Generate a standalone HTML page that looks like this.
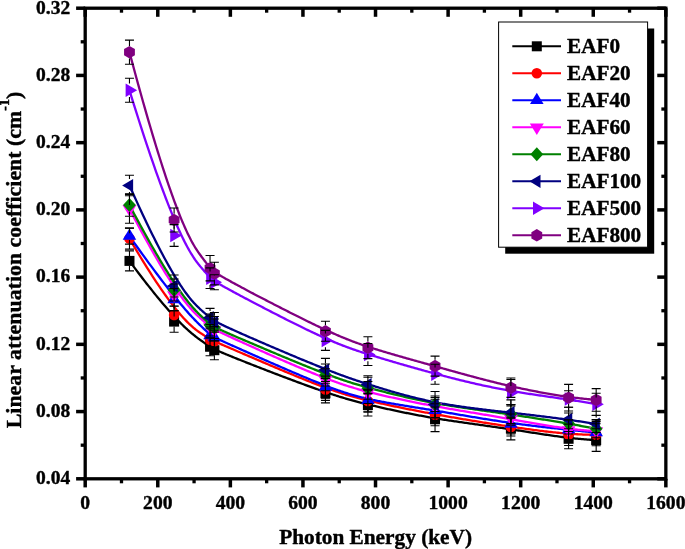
<!DOCTYPE html><html><head><meta charset="utf-8"><style>html,body{margin:0;padding:0;background:#fff;}svg{display:block;will-change:transform;}text{font-family:"Liberation Serif",serif;font-weight:bold;fill:#000;stroke:#000;stroke-width:0.4px;stroke-linejoin:round;}</style></head><body>
<svg width="685" height="549" viewBox="0 0 685 549">
<g fill="none" stroke-width="2.3" stroke-linejoin="round" stroke-linecap="round">
<path d="M129.47,260.90 L131.79,264.04 L134.06,267.10 L136.29,270.07 L138.46,272.95 L140.59,275.76 L142.67,278.48 L144.71,281.12 L146.70,283.68 L148.65,286.16 L150.56,288.57 L152.42,290.90 L154.24,293.16 L156.01,295.35 L157.75,297.47 L159.45,299.52 L161.10,301.50 L162.72,303.41 L164.29,305.26 L165.83,307.04 L167.33,308.76 L168.79,310.42 L170.22,312.02 L171.61,313.56 L172.97,315.05 L174.29,316.48 L175.57,317.85 L176.83,319.17 L178.05,320.44 L179.23,321.66 L180.39,322.83 L181.51,323.96 L182.61,325.03 L183.67,326.07 L184.70,327.05 L185.71,328.00 L186.68,328.91 L187.63,329.77 L188.56,330.60 L189.45,331.40 L190.32,332.15 L191.16,332.88 L191.98,333.57 L192.78,334.23 L193.55,334.86 L194.30,335.46 L195.03,336.03 L195.73,336.58 L196.41,337.11 L197.08,337.61 L197.72,338.09 L198.34,338.55 L198.95,338.99 L199.53,339.41 L200.10,339.82 L200.66,340.21 L201.19,340.59 L201.71,340.96 L202.21,341.31 L202.70,341.66 L203.18,342.00 L203.64,342.32 L204.10,342.64 L204.54,342.95 L204.97,343.25 L205.39,343.55 L205.80,343.83 L206.20,344.11 L206.60,344.39 L206.99,344.65 L207.38,344.91 L207.76,345.17 L208.14,345.42 L208.51,345.67 L208.89,345.91 L209.26,346.15 L209.63,346.38 L210.01,346.61 L210.38,346.84 L210.76,347.07 L211.14,347.29 L211.52,347.52 L211.91,347.74 L212.30,347.96 L212.70,348.18 L213.11,348.40 L213.53,348.63 L213.95,348.85 L214.39,349.08 L214.83,349.30 L215.29,349.53 L215.76,349.76 L216.24,350.00 L216.74,350.23 L217.25,350.47 L217.78,350.72 L218.32,350.97 L218.88,351.22 L219.46,351.48 L220.06,351.75 L220.68,352.02 L221.32,352.30 L221.98,352.58 L222.66,352.88 L223.37,353.18 L224.10,353.48 L224.85,353.80 L225.63,354.13 L226.44,354.46 L227.28,354.80 L228.14,355.16 L229.03,355.52 L229.95,355.90 L230.91,356.29 L231.89,356.68 L232.91,357.09 L233.96,357.52 L235.04,357.95 L236.15,358.39 L237.28,358.85 L238.45,359.32 L239.65,359.79 L240.87,360.28 L242.11,360.77 L243.38,361.28 L244.68,361.79 L246.00,362.31 L247.33,362.83 L248.69,363.37 L250.07,363.91 L251.47,364.46 L252.89,365.01 L254.32,365.57 L255.77,366.14 L257.23,366.71 L258.71,367.28 L260.20,367.86 L261.71,368.45 L263.22,369.03 L264.75,369.62 L266.28,370.22 L267.83,370.81 L269.38,371.41 L270.94,372.01 L272.50,372.61 L274.07,373.21 L275.64,373.81 L277.21,374.41 L278.79,375.01 L280.37,375.61 L281.95,376.21 L283.52,376.81 L285.10,377.40 L286.67,377.99 L288.24,378.58 L289.80,379.17 L291.36,379.76 L292.92,380.34 L294.46,380.91 L296.00,381.49 L297.52,382.05 L299.04,382.62 L300.55,383.17 L302.04,383.72 L303.52,384.27 L304.99,384.80 L306.44,385.33 L307.87,385.85 L309.29,386.37 L310.69,386.87 L312.07,387.37 L313.43,387.86 L314.78,388.34 L316.10,388.81 L317.40,389.27 L318.68,389.72 L319.94,390.16 L321.18,390.59 L322.41,391.02 L323.62,391.43 L324.81,391.84 L325.98,392.24 L327.14,392.63 L328.28,393.02 L329.40,393.40 L330.52,393.76 L331.61,394.13 L332.70,394.48 L333.77,394.83 L334.82,395.17 L335.87,395.51 L336.90,395.84 L337.92,396.16 L338.94,396.48 L339.94,396.79 L340.93,397.10 L341.91,397.40 L342.89,397.69 L343.85,397.98 L344.81,398.27 L345.76,398.55 L346.70,398.83 L347.64,399.10 L348.57,399.37 L349.50,399.63 L350.42,399.89 L351.34,400.15 L352.25,400.41 L353.16,400.66 L354.07,400.91 L354.98,401.15 L355.88,401.39 L356.78,401.63 L357.69,401.87 L358.59,402.11 L359.49,402.34 L360.39,402.58 L361.30,402.81 L362.20,403.04 L363.11,403.27 L364.02,403.49 L364.94,403.72 L365.85,403.95 L366.78,404.17 L367.70,404.40 L368.64,404.62 L369.57,404.85 L370.52,405.08 L371.47,405.30 L372.43,405.53 L373.39,405.76 L374.37,405.99 L375.35,406.22 L376.34,406.45 L377.33,406.68 L378.33,406.91 L379.34,407.14 L380.36,407.38 L381.38,407.61 L382.41,407.84 L383.45,408.08 L384.49,408.31 L385.54,408.54 L386.60,408.78 L387.66,409.01 L388.73,409.25 L389.80,409.48 L390.88,409.72 L391.97,409.95 L393.06,410.19 L394.16,410.42 L395.27,410.66 L396.38,410.89 L397.49,411.13 L398.61,411.36 L399.74,411.60 L400.87,411.83 L402.01,412.07 L403.15,412.30 L404.29,412.53 L405.45,412.77 L406.60,413.00 L407.76,413.23 L408.93,413.46 L410.10,413.69 L411.28,413.92 L412.46,414.15 L413.64,414.38 L414.83,414.61 L416.02,414.83 L417.22,415.06 L418.42,415.28 L419.62,415.51 L420.83,415.73 L422.04,415.95 L423.26,416.17 L424.48,416.39 L425.70,416.61 L426.93,416.83 L428.16,417.05 L429.39,417.26 L430.63,417.48 L431.87,417.69 L433.11,417.90 L434.35,418.11 L435.60,418.32 L436.85,418.53 L438.10,418.73 L439.36,418.93 L440.62,419.14 L441.88,419.34 L443.14,419.54 L444.41,419.74 L445.68,419.93 L446.95,420.13 L448.23,420.33 L449.50,420.52 L450.79,420.71 L452.07,420.91 L453.35,421.10 L454.64,421.29 L455.94,421.48 L457.23,421.67 L458.53,421.86 L459.83,422.05 L461.13,422.23 L462.44,422.42 L463.75,422.61 L465.06,422.80 L466.37,422.98 L467.69,423.17 L469.01,423.36 L470.33,423.54 L471.66,423.73 L472.99,423.92 L474.32,424.10 L475.66,424.29 L477.00,424.48 L478.34,424.67 L479.68,424.85 L481.03,425.04 L482.38,425.23 L483.73,425.42 L485.09,425.61 L486.45,425.80 L487.81,425.99 L489.18,426.19 L490.55,426.38 L491.92,426.57 L493.29,426.77 L494.67,426.96 L496.05,427.16 L497.44,427.36 L498.82,427.56 L500.21,427.76 L501.61,427.96 L503.01,428.16 L504.41,428.37 L505.81,428.58 L507.22,428.78 L508.63,428.99 L510.04,429.20 L511.46,429.42 L512.88,429.63 L514.30,429.85 L515.73,430.07 L517.16,430.28 L518.59,430.51 L520.02,430.73 L521.46,430.95 L522.90,431.18 L524.34,431.40 L525.79,431.63 L527.24,431.85 L528.69,432.08 L530.14,432.30 L531.60,432.53 L533.05,432.76 L534.51,432.98 L535.97,433.21 L537.43,433.43 L538.90,433.65 L540.36,433.88 L541.83,434.10 L543.30,434.32 L544.76,434.54 L546.23,434.75 L547.71,434.97 L549.18,435.18 L550.65,435.40 L552.12,435.60 L553.60,435.81 L555.07,436.02 L556.55,436.22 L558.02,436.42 L559.50,436.61 L560.97,436.81 L562.45,437.00 L563.93,437.18 L565.40,437.37 L566.88,437.54 L568.35,437.72 L569.83,437.89 L571.30,438.06 L572.77,438.22 L574.24,438.38 L575.72,438.53 L577.19,438.68 L578.66,438.82 L580.12,438.96 L581.59,439.09 L583.06,439.22 L584.52,439.34 L585.98,439.46 L587.45,439.57 L588.90,439.67 L590.36,439.77 L591.82,439.86 L593.27,439.95 L594.72,440.03 L596.17,440.10" stroke="#000000"/>
<path d="M129.47,238.60 L131.79,242.56 L134.06,246.40 L136.29,250.13 L138.46,253.74 L140.59,257.25 L142.67,260.64 L144.71,263.93 L146.70,267.12 L148.65,270.20 L150.56,273.18 L152.42,276.06 L154.24,278.85 L156.01,281.54 L157.75,284.13 L159.45,286.64 L161.10,289.05 L162.72,291.38 L164.29,293.62 L165.83,295.77 L167.33,297.85 L168.79,299.84 L170.22,301.75 L171.61,303.59 L172.97,305.35 L174.29,307.04 L175.57,308.66 L176.83,310.21 L178.05,311.70 L179.23,313.11 L180.39,314.47 L181.51,315.76 L182.61,316.99 L183.67,318.16 L184.70,319.28 L185.71,320.35 L186.68,321.36 L187.63,322.32 L188.56,323.23 L189.45,324.09 L190.32,324.91 L191.16,325.69 L191.98,326.43 L192.78,327.13 L193.55,327.79 L194.30,328.41 L195.03,329.00 L195.73,329.56 L196.41,330.09 L197.08,330.59 L197.72,331.06 L198.34,331.51 L198.95,331.94 L199.53,332.35 L200.10,332.74 L200.66,333.11 L201.19,333.47 L201.71,333.81 L202.21,334.14 L202.70,334.46 L203.18,334.78 L203.64,335.08 L204.10,335.37 L204.54,335.66 L204.97,335.93 L205.39,336.20 L205.80,336.46 L206.20,336.71 L206.60,336.96 L206.99,337.20 L207.38,337.44 L207.76,337.67 L208.14,337.89 L208.51,338.11 L208.89,338.33 L209.26,338.54 L209.63,338.76 L210.01,338.96 L210.38,339.17 L210.76,339.37 L211.14,339.58 L211.52,339.78 L211.91,339.98 L212.30,340.18 L212.70,340.38 L213.11,340.59 L213.53,340.79 L213.95,341.00 L214.39,341.21 L214.83,341.42 L215.29,341.63 L215.76,341.85 L216.24,342.07 L216.74,342.30 L217.25,342.53 L217.78,342.77 L218.32,343.01 L218.88,343.26 L219.46,343.51 L220.06,343.78 L220.68,344.05 L221.32,344.33 L221.98,344.61 L222.66,344.91 L223.37,345.21 L224.10,345.53 L224.85,345.85 L225.63,346.19 L226.44,346.54 L227.28,346.90 L228.14,347.27 L229.03,347.65 L229.95,348.04 L230.91,348.45 L231.89,348.88 L232.91,349.31 L233.96,349.76 L235.04,350.23 L236.15,350.71 L237.28,351.20 L238.45,351.70 L239.65,352.21 L240.87,352.74 L242.11,353.28 L243.38,353.82 L244.68,354.38 L246.00,354.95 L247.33,355.52 L248.69,356.11 L250.07,356.70 L251.47,357.30 L252.89,357.91 L254.32,358.52 L255.77,359.14 L257.23,359.77 L258.71,360.40 L260.20,361.04 L261.71,361.68 L263.22,362.33 L264.75,362.98 L266.28,363.63 L267.83,364.29 L269.38,364.95 L270.94,365.61 L272.50,366.27 L274.07,366.93 L275.64,367.60 L277.21,368.26 L278.79,368.93 L280.37,369.59 L281.95,370.25 L283.52,370.91 L285.10,371.57 L286.67,372.23 L288.24,372.88 L289.80,373.53 L291.36,374.17 L292.92,374.81 L294.46,375.45 L296.00,376.08 L297.52,376.71 L299.04,377.33 L300.55,377.94 L302.04,378.55 L303.52,379.15 L304.99,379.74 L306.44,380.32 L307.87,380.89 L309.29,381.46 L310.69,382.01 L312.07,382.56 L313.43,383.09 L314.78,383.61 L316.10,384.13 L317.40,384.63 L318.68,385.12 L319.94,385.60 L321.18,386.07 L322.41,386.53 L323.62,386.98 L324.81,387.42 L325.98,387.85 L327.14,388.27 L328.28,388.69 L329.40,389.09 L330.52,389.49 L331.61,389.87 L332.70,390.25 L333.77,390.62 L334.82,390.99 L335.87,391.34 L336.90,391.69 L337.92,392.03 L338.94,392.37 L339.94,392.69 L340.93,393.01 L341.91,393.33 L342.89,393.64 L343.85,393.94 L344.81,394.24 L345.76,394.53 L346.70,394.82 L347.64,395.10 L348.57,395.37 L349.50,395.64 L350.42,395.91 L351.34,396.17 L352.25,396.43 L353.16,396.69 L354.07,396.94 L354.98,397.19 L355.88,397.43 L356.78,397.67 L357.69,397.91 L358.59,398.15 L359.49,398.38 L360.39,398.61 L361.30,398.84 L362.20,399.07 L363.11,399.29 L364.02,399.52 L364.94,399.74 L365.85,399.96 L366.78,400.19 L367.70,400.41 L368.64,400.63 L369.57,400.85 L370.52,401.07 L371.47,401.29 L372.43,401.51 L373.39,401.73 L374.37,401.96 L375.35,402.18 L376.34,402.40 L377.33,402.63 L378.33,402.85 L379.34,403.08 L380.36,403.30 L381.38,403.53 L382.41,403.75 L383.45,403.98 L384.49,404.21 L385.54,404.44 L386.60,404.66 L387.66,404.89 L388.73,405.12 L389.80,405.35 L390.88,405.58 L391.97,405.81 L393.06,406.04 L394.16,406.27 L395.27,406.50 L396.38,406.73 L397.49,406.96 L398.61,407.19 L399.74,407.42 L400.87,407.65 L402.01,407.88 L403.15,408.11 L404.29,408.34 L405.45,408.58 L406.60,408.81 L407.76,409.04 L408.93,409.27 L410.10,409.50 L411.28,409.73 L412.46,409.96 L413.64,410.20 L414.83,410.43 L416.02,410.66 L417.22,410.89 L418.42,411.12 L419.62,411.35 L420.83,411.58 L422.04,411.81 L423.26,412.04 L424.48,412.28 L425.70,412.51 L426.93,412.74 L428.16,412.97 L429.39,413.19 L430.63,413.42 L431.87,413.65 L433.11,413.88 L434.35,414.11 L435.60,414.34 L436.85,414.56 L438.10,414.79 L439.36,415.02 L440.62,415.25 L441.88,415.47 L443.14,415.70 L444.41,415.92 L445.68,416.15 L446.95,416.37 L448.23,416.60 L449.50,416.82 L450.79,417.04 L452.07,417.27 L453.35,417.49 L454.64,417.71 L455.94,417.94 L457.23,418.16 L458.53,418.38 L459.83,418.60 L461.13,418.82 L462.44,419.04 L463.75,419.26 L465.06,419.48 L466.37,419.70 L467.69,419.92 L469.01,420.14 L470.33,420.36 L471.66,420.58 L472.99,420.80 L474.32,421.01 L475.66,421.23 L477.00,421.45 L478.34,421.66 L479.68,421.88 L481.03,422.10 L482.38,422.31 L483.73,422.53 L485.09,422.74 L486.45,422.96 L487.81,423.17 L489.18,423.39 L490.55,423.60 L491.92,423.82 L493.29,424.03 L494.67,424.24 L496.05,424.45 L497.44,424.67 L498.82,424.88 L500.21,425.09 L501.61,425.30 L503.01,425.52 L504.41,425.73 L505.81,425.94 L507.22,426.15 L508.63,426.36 L510.04,426.57 L511.46,426.78 L512.88,426.99 L514.30,427.20 L515.73,427.41 L517.16,427.62 L518.59,427.82 L520.02,428.03 L521.46,428.24 L522.90,428.44 L524.34,428.65 L525.79,428.85 L527.24,429.05 L528.69,429.25 L530.14,429.45 L531.60,429.64 L533.05,429.84 L534.51,430.03 L535.97,430.22 L537.43,430.41 L538.90,430.60 L540.36,430.78 L541.83,430.96 L543.30,431.14 L544.76,431.32 L546.23,431.49 L547.71,431.66 L549.18,431.83 L550.65,431.99 L552.12,432.15 L553.60,432.31 L555.07,432.46 L556.55,432.61 L558.02,432.76 L559.50,432.90 L560.97,433.04 L562.45,433.17 L563.93,433.30 L565.40,433.42 L566.88,433.54 L568.35,433.66 L569.83,433.77 L571.30,433.88 L572.77,433.98 L574.24,434.07 L575.72,434.16 L577.19,434.25 L578.66,434.32 L580.12,434.40 L581.59,434.47 L583.06,434.53 L584.52,434.58 L585.98,434.63 L587.45,434.68 L588.90,434.71 L590.36,434.74 L591.82,434.77 L593.27,434.79 L594.72,434.80 L596.17,434.80" stroke="#ff0000"/>
<path d="M129.47,236.10 L131.79,239.39 L134.06,242.59 L136.29,245.72 L138.46,248.76 L140.59,251.72 L142.67,254.61 L144.71,257.42 L146.70,260.16 L148.65,262.82 L150.56,265.41 L152.42,267.93 L154.24,270.38 L156.01,272.75 L157.75,275.06 L159.45,277.31 L161.10,279.48 L162.72,281.60 L164.29,283.65 L165.83,285.63 L167.33,287.56 L168.79,289.43 L170.22,291.24 L171.61,292.99 L172.97,294.68 L174.29,296.32 L175.57,297.91 L176.83,299.44 L178.05,300.92 L179.23,302.35 L180.39,303.73 L181.51,305.07 L182.61,306.35 L183.67,307.59 L184.70,308.79 L185.71,309.95 L186.68,311.06 L187.63,312.13 L188.56,313.16 L189.45,314.15 L190.32,315.11 L191.16,316.03 L191.98,316.91 L192.78,317.76 L193.55,318.58 L194.30,319.36 L195.03,320.12 L195.73,320.85 L196.41,321.55 L197.08,322.22 L197.72,322.87 L198.34,323.49 L198.95,324.09 L199.53,324.67 L200.10,325.22 L200.66,325.76 L201.19,326.28 L201.71,326.78 L202.21,327.26 L202.70,327.73 L203.18,328.19 L203.64,328.63 L204.10,329.06 L204.54,329.47 L204.97,329.87 L205.39,330.26 L205.80,330.64 L206.20,331.00 L206.60,331.36 L206.99,331.70 L207.38,332.04 L207.76,332.36 L208.14,332.68 L208.51,332.99 L208.89,333.29 L209.26,333.59 L209.63,333.88 L210.01,334.16 L210.38,334.44 L210.76,334.71 L211.14,334.98 L211.52,335.24 L211.91,335.50 L212.30,335.76 L212.70,336.02 L213.11,336.27 L213.53,336.53 L213.95,336.78 L214.39,337.04 L214.83,337.29 L215.29,337.55 L215.76,337.80 L216.24,338.06 L216.74,338.32 L217.25,338.59 L217.78,338.86 L218.32,339.13 L218.88,339.41 L219.46,339.69 L220.06,339.98 L220.68,340.27 L221.32,340.57 L221.98,340.88 L222.66,341.20 L223.37,341.53 L224.10,341.86 L224.85,342.21 L225.63,342.56 L226.44,342.93 L227.28,343.30 L228.14,343.69 L229.03,344.09 L229.95,344.50 L230.91,344.93 L231.89,345.37 L232.91,345.83 L233.96,346.29 L235.04,346.78 L236.15,347.27 L237.28,347.78 L238.45,348.30 L239.65,348.84 L240.87,349.38 L242.11,349.94 L243.38,350.50 L244.68,351.08 L246.00,351.66 L247.33,352.26 L248.69,352.86 L250.07,353.48 L251.47,354.10 L252.89,354.73 L254.32,355.36 L255.77,356.00 L257.23,356.65 L258.71,357.30 L260.20,357.96 L261.71,358.62 L263.22,359.29 L264.75,359.96 L266.28,360.64 L267.83,361.32 L269.38,362.00 L270.94,362.68 L272.50,363.36 L274.07,364.05 L275.64,364.73 L277.21,365.42 L278.79,366.11 L280.37,366.79 L281.95,367.48 L283.52,368.16 L285.10,368.84 L286.67,369.52 L288.24,370.20 L289.80,370.87 L291.36,371.54 L292.92,372.20 L294.46,372.86 L296.00,373.52 L297.52,374.17 L299.04,374.81 L300.55,375.45 L302.04,376.08 L303.52,376.70 L304.99,377.31 L306.44,377.92 L307.87,378.52 L309.29,379.11 L310.69,379.69 L312.07,380.26 L313.43,380.81 L314.78,381.36 L316.10,381.90 L317.40,382.42 L318.68,382.94 L319.94,383.44 L321.18,383.94 L322.41,384.42 L323.62,384.90 L324.81,385.36 L325.98,385.82 L327.14,386.26 L328.28,386.70 L329.40,387.13 L330.52,387.55 L331.61,387.96 L332.70,388.36 L333.77,388.75 L334.82,389.13 L335.87,389.51 L336.90,389.88 L337.92,390.24 L338.94,390.59 L339.94,390.94 L340.93,391.28 L341.91,391.61 L342.89,391.94 L343.85,392.26 L344.81,392.57 L345.76,392.88 L346.70,393.18 L347.64,393.47 L348.57,393.76 L349.50,394.04 L350.42,394.32 L351.34,394.59 L352.25,394.86 L353.16,395.12 L354.07,395.38 L354.98,395.63 L355.88,395.88 L356.78,396.13 L357.69,396.37 L358.59,396.61 L359.49,396.84 L360.39,397.07 L361.30,397.30 L362.20,397.52 L363.11,397.74 L364.02,397.96 L364.94,398.18 L365.85,398.39 L366.78,398.60 L367.70,398.81 L368.64,399.02 L369.57,399.23 L370.52,399.43 L371.47,399.63 L372.43,399.84 L373.39,400.04 L374.37,400.24 L375.35,400.44 L376.34,400.64 L377.33,400.83 L378.33,401.03 L379.34,401.23 L380.36,401.42 L381.38,401.62 L382.41,401.81 L383.45,402.00 L384.49,402.20 L385.54,402.39 L386.60,402.58 L387.66,402.77 L388.73,402.96 L389.80,403.15 L390.88,403.34 L391.97,403.53 L393.06,403.72 L394.16,403.91 L395.27,404.10 L396.38,404.29 L397.49,404.48 L398.61,404.67 L399.74,404.86 L400.87,405.05 L402.01,405.24 L403.15,405.42 L404.29,405.61 L405.45,405.80 L406.60,405.99 L407.76,406.18 L408.93,406.37 L410.10,406.56 L411.28,406.75 L412.46,406.94 L413.64,407.14 L414.83,407.33 L416.02,407.52 L417.22,407.71 L418.42,407.91 L419.62,408.10 L420.83,408.30 L422.04,408.49 L423.26,408.69 L424.48,408.89 L425.70,409.08 L426.93,409.28 L428.16,409.48 L429.39,409.68 L430.63,409.88 L431.87,410.09 L433.11,410.29 L434.35,410.50 L435.60,410.70 L436.85,410.91 L438.10,411.12 L439.36,411.33 L440.62,411.54 L441.88,411.75 L443.14,411.96 L444.41,412.18 L445.68,412.39 L446.95,412.60 L448.23,412.82 L449.50,413.04 L450.79,413.25 L452.07,413.47 L453.35,413.69 L454.64,413.91 L455.94,414.13 L457.23,414.35 L458.53,414.57 L459.83,414.79 L461.13,415.01 L462.44,415.24 L463.75,415.46 L465.06,415.68 L466.37,415.90 L467.69,416.12 L469.01,416.35 L470.33,416.57 L471.66,416.79 L472.99,417.01 L474.32,417.23 L475.66,417.45 L477.00,417.68 L478.34,417.90 L479.68,418.12 L481.03,418.34 L482.38,418.56 L483.73,418.78 L485.09,419.00 L486.45,419.21 L487.81,419.43 L489.18,419.65 L490.55,419.86 L491.92,420.08 L493.29,420.29 L494.67,420.51 L496.05,420.72 L497.44,420.93 L498.82,421.14 L500.21,421.35 L501.61,421.56 L503.01,421.77 L504.41,421.97 L505.81,422.18 L507.22,422.38 L508.63,422.58 L510.04,422.78 L511.46,422.98 L512.88,423.18 L514.30,423.37 L515.73,423.57 L517.16,423.76 L518.59,423.95 L520.02,424.14 L521.46,424.33 L522.90,424.52 L524.34,424.70 L525.79,424.89 L527.24,425.07 L528.69,425.25 L530.14,425.43 L531.60,425.61 L533.05,425.79 L534.51,425.97 L535.97,426.14 L537.43,426.32 L538.90,426.49 L540.36,426.66 L541.83,426.83 L543.30,427.00 L544.76,427.17 L546.23,427.34 L547.71,427.50 L549.18,427.67 L550.65,427.83 L552.12,428.00 L553.60,428.16 L555.07,428.32 L556.55,428.48 L558.02,428.65 L559.50,428.80 L560.97,428.96 L562.45,429.12 L563.93,429.28 L565.40,429.44 L566.88,429.59 L568.35,429.75 L569.83,429.90 L571.30,430.05 L572.77,430.21 L574.24,430.36 L575.72,430.51 L577.19,430.66 L578.66,430.82 L580.12,430.97 L581.59,431.12 L583.06,431.27 L584.52,431.42 L585.98,431.57 L587.45,431.71 L588.90,431.86 L590.36,432.01 L591.82,432.16 L593.27,432.31 L594.72,432.45 L596.17,432.60" stroke="#0000ff"/>
<path d="M129.47,208.80 L131.79,213.26 L134.06,217.60 L136.29,221.81 L138.46,225.89 L140.59,229.86 L142.67,233.70 L144.71,237.43 L146.70,241.05 L148.65,244.55 L150.56,247.94 L152.42,251.22 L154.24,254.40 L156.01,257.47 L157.75,260.44 L159.45,263.30 L161.10,266.07 L162.72,268.75 L164.29,271.32 L165.83,273.81 L167.33,276.20 L168.79,278.50 L170.22,280.72 L171.61,282.86 L172.97,284.91 L174.29,286.88 L175.57,288.77 L176.83,290.58 L178.05,292.33 L179.23,293.99 L180.39,295.59 L181.51,297.12 L182.61,298.58 L183.67,299.98 L184.70,301.32 L185.71,302.59 L186.68,303.81 L187.63,304.97 L188.56,306.08 L189.45,307.13 L190.32,308.13 L191.16,309.09 L191.98,310.00 L192.78,310.86 L193.55,311.68 L194.30,312.46 L195.03,313.21 L195.73,313.91 L196.41,314.59 L197.08,315.23 L197.72,315.84 L198.34,316.42 L198.95,316.98 L199.53,317.51 L200.10,318.02 L200.66,318.51 L201.19,318.98 L201.71,319.44 L202.21,319.88 L202.70,320.31 L203.18,320.72 L203.64,321.12 L204.10,321.51 L204.54,321.89 L204.97,322.26 L205.39,322.62 L205.80,322.97 L206.20,323.31 L206.60,323.64 L206.99,323.96 L207.38,324.27 L207.76,324.58 L208.14,324.88 L208.51,325.17 L208.89,325.46 L209.26,325.74 L209.63,326.01 L210.01,326.29 L210.38,326.55 L210.76,326.82 L211.14,327.08 L211.52,327.34 L211.91,327.59 L212.30,327.85 L212.70,328.10 L213.11,328.36 L213.53,328.61 L213.95,328.86 L214.39,329.12 L214.83,329.37 L215.29,329.63 L215.76,329.89 L216.24,330.16 L216.74,330.42 L217.25,330.69 L217.78,330.97 L218.32,331.25 L218.88,331.53 L219.46,331.82 L220.06,332.12 L220.68,332.42 L221.32,332.73 L221.98,333.05 L222.66,333.38 L223.37,333.72 L224.10,334.06 L224.85,334.42 L225.63,334.78 L226.44,335.16 L227.28,335.55 L228.14,335.95 L229.03,336.36 L229.95,336.78 L230.91,337.22 L231.89,337.67 L232.91,338.13 L233.96,338.61 L235.04,339.11 L236.15,339.61 L237.28,340.13 L238.45,340.66 L239.65,341.20 L240.87,341.76 L242.11,342.32 L243.38,342.90 L244.68,343.48 L246.00,344.07 L247.33,344.68 L248.69,345.29 L250.07,345.91 L251.47,346.54 L252.89,347.17 L254.32,347.82 L255.77,348.46 L257.23,349.12 L258.71,349.78 L260.20,350.44 L261.71,351.11 L263.22,351.79 L264.75,352.46 L266.28,353.14 L267.83,353.83 L269.38,354.51 L270.94,355.20 L272.50,355.89 L274.07,356.58 L275.64,357.27 L277.21,357.96 L278.79,358.65 L280.37,359.34 L281.95,360.03 L283.52,360.71 L285.10,361.40 L286.67,362.08 L288.24,362.76 L289.80,363.43 L291.36,364.10 L292.92,364.77 L294.46,365.43 L296.00,366.09 L297.52,366.74 L299.04,367.38 L300.55,368.02 L302.04,368.65 L303.52,369.27 L304.99,369.89 L306.44,370.49 L307.87,371.09 L309.29,371.68 L310.69,372.26 L312.07,372.82 L313.43,373.38 L314.78,373.93 L316.10,374.46 L317.40,374.99 L318.68,375.50 L319.94,376.00 L321.18,376.49 L322.41,376.97 L323.62,377.45 L324.81,377.91 L325.98,378.36 L327.14,378.80 L328.28,379.24 L329.40,379.66 L330.52,380.08 L331.61,380.49 L332.70,380.89 L333.77,381.28 L334.82,381.66 L335.87,382.04 L336.90,382.40 L337.92,382.77 L338.94,383.12 L339.94,383.47 L340.93,383.81 L341.91,384.14 L342.89,384.47 L343.85,384.79 L344.81,385.10 L345.76,385.41 L346.70,385.72 L347.64,386.02 L348.57,386.31 L349.50,386.60 L350.42,386.89 L351.34,387.17 L352.25,387.45 L353.16,387.72 L354.07,387.99 L354.98,388.25 L355.88,388.51 L356.78,388.77 L357.69,389.03 L358.59,389.28 L359.49,389.53 L360.39,389.78 L361.30,390.03 L362.20,390.27 L363.11,390.52 L364.02,390.76 L364.94,391.00 L365.85,391.24 L366.78,391.48 L367.70,391.71 L368.64,391.95 L369.57,392.19 L370.52,392.43 L371.47,392.66 L372.43,392.90 L373.39,393.14 L374.37,393.38 L375.35,393.62 L376.34,393.86 L377.33,394.10 L378.33,394.34 L379.34,394.58 L380.36,394.82 L381.38,395.06 L382.41,395.31 L383.45,395.55 L384.49,395.79 L385.54,396.04 L386.60,396.28 L387.66,396.52 L388.73,396.77 L389.80,397.01 L390.88,397.25 L391.97,397.50 L393.06,397.74 L394.16,397.98 L395.27,398.23 L396.38,398.47 L397.49,398.72 L398.61,398.96 L399.74,399.20 L400.87,399.45 L402.01,399.69 L403.15,399.93 L404.29,400.18 L405.45,400.42 L406.60,400.66 L407.76,400.90 L408.93,401.15 L410.10,401.39 L411.28,401.63 L412.46,401.87 L413.64,402.11 L414.83,402.35 L416.02,402.59 L417.22,402.83 L418.42,403.07 L419.62,403.30 L420.83,403.54 L422.04,403.78 L423.26,404.02 L424.48,404.25 L425.70,404.49 L426.93,404.72 L428.16,404.95 L429.39,405.19 L430.63,405.42 L431.87,405.65 L433.11,405.88 L434.35,406.11 L435.60,406.34 L436.85,406.56 L438.10,406.79 L439.36,407.02 L440.62,407.24 L441.88,407.47 L443.14,407.69 L444.41,407.91 L445.68,408.14 L446.95,408.36 L448.23,408.58 L449.50,408.80 L450.79,409.02 L452.07,409.24 L453.35,409.46 L454.64,409.68 L455.94,409.90 L457.23,410.12 L458.53,410.34 L459.83,410.55 L461.13,410.77 L462.44,410.99 L463.75,411.21 L465.06,411.43 L466.37,411.65 L467.69,411.87 L469.01,412.09 L470.33,412.30 L471.66,412.52 L472.99,412.74 L474.32,412.96 L475.66,413.19 L477.00,413.41 L478.34,413.63 L479.68,413.85 L481.03,414.07 L482.38,414.30 L483.73,414.52 L485.09,414.75 L486.45,414.98 L487.81,415.20 L489.18,415.43 L490.55,415.66 L491.92,415.89 L493.29,416.12 L494.67,416.35 L496.05,416.59 L497.44,416.82 L498.82,417.06 L500.21,417.29 L501.61,417.53 L503.01,417.77 L504.41,418.01 L505.81,418.26 L507.22,418.50 L508.63,418.75 L510.04,418.99 L511.46,419.24 L512.88,419.49 L514.30,419.75 L515.73,420.00 L517.16,420.26 L518.59,420.51 L520.02,420.77 L521.46,421.03 L522.90,421.29 L524.34,421.55 L525.79,421.81 L527.24,422.07 L528.69,422.33 L530.14,422.59 L531.60,422.85 L533.05,423.11 L534.51,423.36 L535.97,423.62 L537.43,423.88 L538.90,424.13 L540.36,424.38 L541.83,424.63 L543.30,424.88 L544.76,425.13 L546.23,425.37 L547.71,425.61 L549.18,425.85 L550.65,426.09 L552.12,426.32 L553.60,426.55 L555.07,426.78 L556.55,427.00 L558.02,427.22 L559.50,427.44 L560.97,427.65 L562.45,427.86 L563.93,428.06 L565.40,428.26 L566.88,428.45 L568.35,428.64 L569.83,428.82 L571.30,429.00 L572.77,429.17 L574.24,429.33 L575.72,429.49 L577.19,429.65 L578.66,429.79 L580.12,429.94 L581.59,430.07 L583.06,430.20 L584.52,430.32 L585.98,430.43 L587.45,430.53 L588.90,430.63 L590.36,430.72 L591.82,430.80 L593.27,430.88 L594.72,430.94 L596.17,431.00" stroke="#ff00ff"/>
<path d="M129.47,205.00 L131.79,209.40 L134.06,213.68 L136.29,217.84 L138.46,221.88 L140.59,225.80 L142.67,229.61 L144.71,233.31 L146.70,236.89 L148.65,240.37 L150.56,243.74 L152.42,247.01 L154.24,250.17 L156.01,253.23 L157.75,256.19 L159.45,259.05 L161.10,261.82 L162.72,264.50 L164.29,267.08 L165.83,269.57 L167.33,271.98 L168.79,274.30 L170.22,276.54 L171.61,278.69 L172.97,280.76 L174.29,282.76 L175.57,284.68 L176.83,286.52 L178.05,288.29 L179.23,289.99 L180.39,291.62 L181.51,293.19 L182.61,294.69 L183.67,296.12 L184.70,297.50 L185.71,298.81 L186.68,300.07 L187.63,301.27 L188.56,302.42 L189.45,303.52 L190.32,304.57 L191.16,305.57 L191.98,306.52 L192.78,307.43 L193.55,308.30 L194.30,309.13 L195.03,309.91 L195.73,310.67 L196.41,311.38 L197.08,312.07 L197.72,312.72 L198.34,313.35 L198.95,313.95 L199.53,314.52 L200.10,315.07 L200.66,315.60 L201.19,316.11 L201.71,316.60 L202.21,317.07 L202.70,317.53 L203.18,317.98 L203.64,318.41 L204.10,318.83 L204.54,319.24 L204.97,319.63 L205.39,320.02 L205.80,320.39 L206.20,320.75 L206.60,321.10 L206.99,321.44 L207.38,321.77 L207.76,322.09 L208.14,322.40 L208.51,322.71 L208.89,323.01 L209.26,323.30 L209.63,323.59 L210.01,323.87 L210.38,324.14 L210.76,324.41 L211.14,324.68 L211.52,324.94 L211.91,325.20 L212.30,325.46 L212.70,325.71 L213.11,325.97 L213.53,326.22 L213.95,326.47 L214.39,326.72 L214.83,326.97 L215.29,327.22 L215.76,327.48 L216.24,327.73 L216.74,327.99 L217.25,328.25 L217.78,328.52 L218.32,328.79 L218.88,329.06 L219.46,329.34 L220.06,329.62 L220.68,329.91 L221.32,330.20 L221.98,330.51 L222.66,330.82 L223.37,331.14 L224.10,331.46 L224.85,331.80 L225.63,332.15 L226.44,332.50 L227.28,332.87 L228.14,333.24 L229.03,333.63 L229.95,334.03 L230.91,334.45 L231.89,334.88 L232.91,335.32 L233.96,335.77 L235.04,336.24 L236.15,336.72 L237.28,337.21 L238.45,337.71 L239.65,338.23 L240.87,338.75 L242.11,339.29 L243.38,339.84 L244.68,340.39 L246.00,340.96 L247.33,341.53 L248.69,342.11 L250.07,342.70 L251.47,343.30 L252.89,343.91 L254.32,344.52 L255.77,345.14 L257.23,345.76 L258.71,346.39 L260.20,347.02 L261.71,347.66 L263.22,348.31 L264.75,348.95 L266.28,349.60 L267.83,350.25 L269.38,350.91 L270.94,351.57 L272.50,352.23 L274.07,352.89 L275.64,353.55 L277.21,354.21 L278.79,354.87 L280.37,355.53 L281.95,356.19 L283.52,356.85 L285.10,357.50 L286.67,358.16 L288.24,358.81 L289.80,359.45 L291.36,360.10 L292.92,360.74 L294.46,361.38 L296.00,362.01 L297.52,362.63 L299.04,363.25 L300.55,363.87 L302.04,364.48 L303.52,365.08 L304.99,365.67 L306.44,366.26 L307.87,366.83 L309.29,367.40 L310.69,367.96 L312.07,368.51 L313.43,369.05 L314.78,369.59 L316.10,370.11 L317.40,370.61 L318.68,371.11 L319.94,371.60 L321.18,372.09 L322.41,372.56 L323.62,373.02 L324.81,373.47 L325.98,373.92 L327.14,374.35 L328.28,374.78 L329.40,375.20 L330.52,375.61 L331.61,376.01 L332.70,376.41 L333.77,376.79 L334.82,377.18 L335.87,377.55 L336.90,377.92 L337.92,378.28 L338.94,378.63 L339.94,378.98 L340.93,379.32 L341.91,379.66 L342.89,379.99 L343.85,380.31 L344.81,380.63 L345.76,380.95 L346.70,381.26 L347.64,381.57 L348.57,381.87 L349.50,382.17 L350.42,382.46 L351.34,382.75 L352.25,383.03 L353.16,383.32 L354.07,383.60 L354.98,383.87 L355.88,384.15 L356.78,384.42 L357.69,384.69 L358.59,384.95 L359.49,385.22 L360.39,385.48 L361.30,385.74 L362.20,386.00 L363.11,386.26 L364.02,386.52 L364.94,386.78 L365.85,387.03 L366.78,387.29 L367.70,387.54 L368.64,387.80 L369.57,388.06 L370.52,388.31 L371.47,388.57 L372.43,388.83 L373.39,389.09 L374.37,389.35 L375.35,389.61 L376.34,389.87 L377.33,390.13 L378.33,390.39 L379.34,390.66 L380.36,390.92 L381.38,391.19 L382.41,391.45 L383.45,391.72 L384.49,391.98 L385.54,392.25 L386.60,392.51 L387.66,392.78 L388.73,393.05 L389.80,393.31 L390.88,393.58 L391.97,393.85 L393.06,394.11 L394.16,394.38 L395.27,394.65 L396.38,394.91 L397.49,395.18 L398.61,395.44 L399.74,395.71 L400.87,395.97 L402.01,396.24 L403.15,396.50 L404.29,396.76 L405.45,397.02 L406.60,397.28 L407.76,397.55 L408.93,397.81 L410.10,398.06 L411.28,398.32 L412.46,398.58 L413.64,398.84 L414.83,399.09 L416.02,399.34 L417.22,399.60 L418.42,399.85 L419.62,400.10 L420.83,400.35 L422.04,400.59 L423.26,400.84 L424.48,401.08 L425.70,401.33 L426.93,401.57 L428.16,401.81 L429.39,402.04 L430.63,402.28 L431.87,402.51 L433.11,402.75 L434.35,402.98 L435.60,403.20 L436.85,403.43 L438.10,403.66 L439.36,403.88 L440.62,404.10 L441.88,404.32 L443.14,404.53 L444.41,404.75 L445.68,404.96 L446.95,405.17 L448.23,405.38 L449.50,405.59 L450.79,405.80 L452.07,406.00 L453.35,406.21 L454.64,406.41 L455.94,406.61 L457.23,406.81 L458.53,407.01 L459.83,407.21 L461.13,407.41 L462.44,407.60 L463.75,407.80 L465.06,407.99 L466.37,408.19 L467.69,408.38 L469.01,408.58 L470.33,408.77 L471.66,408.96 L472.99,409.15 L474.32,409.34 L475.66,409.54 L477.00,409.73 L478.34,409.92 L479.68,410.11 L481.03,410.30 L482.38,410.49 L483.73,410.68 L485.09,410.87 L486.45,411.06 L487.81,411.25 L489.18,411.45 L490.55,411.64 L491.92,411.83 L493.29,412.02 L494.67,412.22 L496.05,412.41 L497.44,412.61 L498.82,412.80 L500.21,413.00 L501.61,413.20 L503.01,413.40 L504.41,413.60 L505.81,413.80 L507.22,414.00 L508.63,414.20 L510.04,414.41 L511.46,414.61 L512.88,414.82 L514.30,415.03 L515.73,415.24 L517.16,415.45 L518.59,415.66 L520.02,415.88 L521.46,416.10 L522.90,416.31 L524.34,416.53 L525.79,416.75 L527.24,416.97 L528.69,417.20 L530.14,417.42 L531.60,417.64 L533.05,417.87 L534.51,418.10 L535.97,418.33 L537.43,418.56 L538.90,418.79 L540.36,419.02 L541.83,419.26 L543.30,419.49 L544.76,419.73 L546.23,419.97 L547.71,420.21 L549.18,420.45 L550.65,420.69 L552.12,420.93 L553.60,421.18 L555.07,421.42 L556.55,421.67 L558.02,421.91 L559.50,422.16 L560.97,422.41 L562.45,422.66 L563.93,422.91 L565.40,423.17 L566.88,423.42 L568.35,423.67 L569.83,423.93 L571.30,424.19 L572.77,424.45 L574.24,424.70 L575.72,424.96 L577.19,425.22 L578.66,425.49 L580.12,425.75 L581.59,426.01 L583.06,426.28 L584.52,426.54 L585.98,426.81 L587.45,427.08 L588.90,427.35 L590.36,427.61 L591.82,427.88 L593.27,428.16 L594.72,428.43 L596.17,428.70" stroke="#008000"/>
<path d="M129.47,185.50 L131.79,190.70 L134.06,195.74 L136.29,200.64 L138.46,205.39 L140.59,209.99 L142.67,214.45 L144.71,218.77 L146.70,222.95 L148.65,226.99 L150.56,230.90 L152.42,234.68 L154.24,238.33 L156.01,241.86 L157.75,245.26 L159.45,248.55 L161.10,251.71 L162.72,254.76 L164.29,257.70 L165.83,260.52 L167.33,263.24 L168.79,265.85 L170.22,268.36 L171.61,270.77 L172.97,273.07 L174.29,275.29 L175.57,277.41 L176.83,279.44 L178.05,281.38 L179.23,283.23 L180.39,285.01 L181.51,286.70 L182.61,288.31 L183.67,289.85 L184.70,291.31 L185.71,292.70 L186.68,294.03 L187.63,295.29 L188.56,296.48 L189.45,297.62 L190.32,298.69 L191.16,299.71 L191.98,300.68 L192.78,301.60 L193.55,302.47 L194.30,303.29 L195.03,304.07 L195.73,304.80 L196.41,305.50 L197.08,306.17 L197.72,306.80 L198.34,307.39 L198.95,307.96 L199.53,308.51 L200.10,309.03 L200.66,309.53 L201.19,310.01 L201.71,310.48 L202.21,310.93 L202.70,311.37 L203.18,311.79 L203.64,312.21 L204.10,312.61 L204.54,313.00 L204.97,313.39 L205.39,313.76 L205.80,314.12 L206.20,314.47 L206.60,314.82 L206.99,315.16 L207.38,315.48 L207.76,315.81 L208.14,316.12 L208.51,316.43 L208.89,316.73 L209.26,317.03 L209.63,317.32 L210.01,317.61 L210.38,317.90 L210.76,318.18 L211.14,318.45 L211.52,318.73 L211.91,319.00 L212.30,319.27 L212.70,319.54 L213.11,319.81 L213.53,320.08 L213.95,320.35 L214.39,320.62 L214.83,320.89 L215.29,321.16 L215.76,321.44 L216.24,321.71 L216.74,321.99 L217.25,322.27 L217.78,322.56 L218.32,322.85 L218.88,323.15 L219.46,323.45 L220.06,323.76 L220.68,324.07 L221.32,324.39 L221.98,324.71 L222.66,325.05 L223.37,325.39 L224.10,325.74 L224.85,326.10 L225.63,326.47 L226.44,326.85 L227.28,327.24 L228.14,327.64 L229.03,328.05 L229.95,328.47 L230.91,328.91 L231.89,329.35 L232.91,329.81 L233.96,330.29 L235.04,330.77 L236.15,331.27 L237.28,331.78 L238.45,332.30 L239.65,332.83 L240.87,333.38 L242.11,333.93 L243.38,334.49 L244.68,335.06 L246.00,335.64 L247.33,336.23 L248.69,336.83 L250.07,337.43 L251.47,338.04 L252.89,338.66 L254.32,339.28 L255.77,339.91 L257.23,340.55 L258.71,341.19 L260.20,341.84 L261.71,342.49 L263.22,343.14 L264.75,343.80 L266.28,344.46 L267.83,345.12 L269.38,345.79 L270.94,346.45 L272.50,347.12 L274.07,347.79 L275.64,348.46 L277.21,349.13 L278.79,349.81 L280.37,350.48 L281.95,351.14 L283.52,351.81 L285.10,352.48 L286.67,353.14 L288.24,353.80 L289.80,354.46 L291.36,355.12 L292.92,355.77 L294.46,356.41 L296.00,357.06 L297.52,357.69 L299.04,358.32 L300.55,358.95 L302.04,359.57 L303.52,360.18 L304.99,360.79 L306.44,361.39 L307.87,361.98 L309.29,362.56 L310.69,363.13 L312.07,363.69 L313.43,364.25 L314.78,364.79 L316.10,365.33 L317.40,365.85 L318.68,366.37 L319.94,366.87 L321.18,367.37 L322.41,367.86 L323.62,368.34 L324.81,368.81 L325.98,369.27 L327.14,369.72 L328.28,370.17 L329.40,370.60 L330.52,371.03 L331.61,371.46 L332.70,371.87 L333.77,372.28 L334.82,372.68 L335.87,373.08 L336.90,373.47 L337.92,373.85 L338.94,374.23 L339.94,374.60 L340.93,374.97 L341.91,375.33 L342.89,375.68 L343.85,376.03 L344.81,376.38 L345.76,376.72 L346.70,377.06 L347.64,377.39 L348.57,377.72 L349.50,378.05 L350.42,378.37 L351.34,378.69 L352.25,379.00 L353.16,379.32 L354.07,379.63 L354.98,379.94 L355.88,380.24 L356.78,380.55 L357.69,380.85 L358.59,381.15 L359.49,381.45 L360.39,381.75 L361.30,382.05 L362.20,382.34 L363.11,382.64 L364.02,382.93 L364.94,383.23 L365.85,383.52 L366.78,383.82 L367.70,384.12 L368.64,384.41 L369.57,384.71 L370.52,385.01 L371.47,385.31 L372.43,385.61 L373.39,385.92 L374.37,386.22 L375.35,386.53 L376.34,386.83 L377.33,387.14 L378.33,387.45 L379.34,387.76 L380.36,388.08 L381.38,388.39 L382.41,388.70 L383.45,389.02 L384.49,389.33 L385.54,389.65 L386.60,389.96 L387.66,390.28 L388.73,390.59 L389.80,390.91 L390.88,391.23 L391.97,391.54 L393.06,391.86 L394.16,392.17 L395.27,392.49 L396.38,392.80 L397.49,393.12 L398.61,393.43 L399.74,393.74 L400.87,394.06 L402.01,394.37 L403.15,394.68 L404.29,394.99 L405.45,395.30 L406.60,395.60 L407.76,395.91 L408.93,396.21 L410.10,396.51 L411.28,396.81 L412.46,397.11 L413.64,397.41 L414.83,397.71 L416.02,398.00 L417.22,398.29 L418.42,398.58 L419.62,398.87 L420.83,399.15 L422.04,399.43 L423.26,399.71 L424.48,399.99 L425.70,400.26 L426.93,400.53 L428.16,400.80 L429.39,401.07 L430.63,401.33 L431.87,401.59 L433.11,401.84 L434.35,402.09 L435.60,402.34 L436.85,402.59 L438.10,402.83 L439.36,403.07 L440.62,403.30 L441.88,403.53 L443.14,403.76 L444.41,403.98 L445.68,404.20 L446.95,404.42 L448.23,404.64 L449.50,404.85 L450.79,405.06 L452.07,405.26 L453.35,405.47 L454.64,405.67 L455.94,405.87 L457.23,406.06 L458.53,406.26 L459.83,406.45 L461.13,406.64 L462.44,406.83 L463.75,407.01 L465.06,407.19 L466.37,407.37 L467.69,407.55 L469.01,407.73 L470.33,407.91 L471.66,408.08 L472.99,408.25 L474.32,408.42 L475.66,408.59 L477.00,408.76 L478.34,408.93 L479.68,409.09 L481.03,409.26 L482.38,409.42 L483.73,409.58 L485.09,409.75 L486.45,409.91 L487.81,410.07 L489.18,410.23 L490.55,410.39 L491.92,410.54 L493.29,410.70 L494.67,410.86 L496.05,411.02 L497.44,411.17 L498.82,411.33 L500.21,411.49 L501.61,411.65 L503.01,411.80 L504.41,411.96 L505.81,412.12 L507.22,412.28 L508.63,412.44 L510.04,412.59 L511.46,412.75 L512.88,412.91 L514.30,413.08 L515.73,413.24 L517.16,413.40 L518.59,413.56 L520.02,413.73 L521.46,413.89 L522.90,414.06 L524.34,414.23 L525.79,414.39 L527.24,414.56 L528.69,414.73 L530.14,414.90 L531.60,415.07 L533.05,415.25 L534.51,415.42 L535.97,415.59 L537.43,415.77 L538.90,415.95 L540.36,416.13 L541.83,416.31 L543.30,416.49 L544.76,416.67 L546.23,416.85 L547.71,417.04 L549.18,417.22 L550.65,417.41 L552.12,417.60 L553.60,417.79 L555.07,417.98 L556.55,418.17 L558.02,418.36 L559.50,418.56 L560.97,418.76 L562.45,418.95 L563.93,419.16 L565.40,419.36 L566.88,419.56 L568.35,419.77 L569.83,419.97 L571.30,420.18 L572.77,420.39 L574.24,420.60 L575.72,420.81 L577.19,421.03 L578.66,421.25 L580.12,421.47 L581.59,421.69 L583.06,421.91 L584.52,422.13 L585.98,422.36 L587.45,422.59 L588.90,422.82 L590.36,423.05 L591.82,423.28 L593.27,423.52 L594.72,423.76 L596.17,424.00" stroke="#000080"/>
<path d="M129.47,90.30 L131.79,97.81 L134.06,105.10 L136.29,112.16 L138.46,119.01 L140.59,125.65 L142.67,132.07 L144.71,138.29 L146.70,144.31 L148.65,150.14 L150.56,155.76 L152.42,161.20 L154.24,166.44 L156.01,171.51 L157.75,176.39 L159.45,181.10 L161.10,185.64 L162.72,190.00 L164.29,194.21 L165.83,198.24 L167.33,202.13 L168.79,205.85 L170.22,209.43 L171.61,212.86 L172.97,216.14 L174.29,219.29 L175.57,222.30 L176.83,225.18 L178.05,227.93 L179.23,230.55 L180.39,233.05 L181.51,235.44 L182.61,237.71 L183.67,239.87 L184.70,241.92 L185.71,243.87 L186.68,245.73 L187.63,247.48 L188.56,249.14 L189.45,250.72 L190.32,252.21 L191.16,253.62 L191.98,254.95 L192.78,256.21 L193.55,257.39 L194.30,258.51 L195.03,259.57 L195.73,260.57 L196.41,261.51 L197.08,262.40 L197.72,263.25 L198.34,264.05 L198.95,264.80 L199.53,265.52 L200.10,266.21 L200.66,266.87 L201.19,267.50 L201.71,268.11 L202.21,268.70 L202.70,269.27 L203.18,269.82 L203.64,270.36 L204.10,270.88 L204.54,271.38 L204.97,271.88 L205.39,272.35 L205.80,272.82 L206.20,273.27 L206.60,273.70 L206.99,274.13 L207.38,274.54 L207.76,274.95 L208.14,275.34 L208.51,275.73 L208.89,276.10 L209.26,276.47 L209.63,276.83 L210.01,277.19 L210.38,277.54 L210.76,277.88 L211.14,278.22 L211.52,278.55 L211.91,278.88 L212.30,279.20 L212.70,279.53 L213.11,279.85 L213.53,280.17 L213.95,280.49 L214.39,280.81 L214.83,281.13 L215.29,281.45 L215.76,281.77 L216.24,282.10 L216.74,282.42 L217.25,282.76 L217.78,283.09 L218.32,283.43 L218.88,283.78 L219.46,284.13 L220.06,284.49 L220.68,284.85 L221.32,285.23 L221.98,285.61 L222.66,286.00 L223.37,286.40 L224.10,286.81 L224.85,287.24 L225.63,287.67 L226.44,288.11 L227.28,288.57 L228.14,289.05 L229.03,289.53 L229.95,290.03 L230.91,290.55 L231.89,291.08 L232.91,291.63 L233.96,292.19 L235.04,292.77 L236.15,293.36 L237.28,293.97 L238.45,294.60 L239.65,295.24 L240.87,295.89 L242.11,296.55 L243.38,297.22 L244.68,297.91 L246.00,298.61 L247.33,299.31 L248.69,300.03 L250.07,300.76 L251.47,301.49 L252.89,302.24 L254.32,302.99 L255.77,303.75 L257.23,304.52 L258.71,305.29 L260.20,306.07 L261.71,306.85 L263.22,307.64 L264.75,308.43 L266.28,309.22 L267.83,310.02 L269.38,310.82 L270.94,311.63 L272.50,312.43 L274.07,313.23 L275.64,314.04 L277.21,314.85 L278.79,315.65 L280.37,316.45 L281.95,317.26 L283.52,318.06 L285.10,318.85 L286.67,319.65 L288.24,320.44 L289.80,321.22 L291.36,322.00 L292.92,322.78 L294.46,323.55 L296.00,324.31 L297.52,325.07 L299.04,325.82 L300.55,326.56 L302.04,327.29 L303.52,328.01 L304.99,328.73 L306.44,329.43 L307.87,330.12 L309.29,330.81 L310.69,331.48 L312.07,332.13 L313.43,332.78 L314.78,333.41 L316.10,334.03 L317.40,334.63 L318.68,335.23 L319.94,335.81 L321.18,336.37 L322.41,336.93 L323.62,337.47 L324.81,338.00 L325.98,338.53 L327.14,339.04 L328.28,339.53 L329.40,340.02 L330.52,340.50 L331.61,340.97 L332.70,341.43 L333.77,341.88 L334.82,342.32 L335.87,342.75 L336.90,343.18 L337.92,343.59 L338.94,344.00 L339.94,344.40 L340.93,344.79 L341.91,345.18 L342.89,345.55 L343.85,345.92 L344.81,346.29 L345.76,346.65 L346.70,347.00 L347.64,347.35 L348.57,347.69 L349.50,348.03 L350.42,348.36 L351.34,348.68 L352.25,349.01 L353.16,349.33 L354.07,349.64 L354.98,349.95 L355.88,350.26 L356.78,350.57 L357.69,350.87 L358.59,351.17 L359.49,351.47 L360.39,351.76 L361.30,352.06 L362.20,352.35 L363.11,352.64 L364.02,352.93 L364.94,353.22 L365.85,353.51 L366.78,353.80 L367.70,354.10 L368.64,354.39 L369.57,354.68 L370.52,354.97 L371.47,355.26 L372.43,355.56 L373.39,355.86 L374.37,356.16 L375.35,356.46 L376.34,356.76 L377.33,357.06 L378.33,357.37 L379.34,357.68 L380.36,357.98 L381.38,358.29 L382.41,358.60 L383.45,358.92 L384.49,359.23 L385.54,359.54 L386.60,359.86 L387.66,360.18 L388.73,360.50 L389.80,360.82 L390.88,361.14 L391.97,361.46 L393.06,361.78 L394.16,362.10 L395.27,362.43 L396.38,362.75 L397.49,363.08 L398.61,363.41 L399.74,363.74 L400.87,364.07 L402.01,364.39 L403.15,364.72 L404.29,365.06 L405.45,365.39 L406.60,365.72 L407.76,366.05 L408.93,366.38 L410.10,366.72 L411.28,367.05 L412.46,367.39 L413.64,367.72 L414.83,368.06 L416.02,368.39 L417.22,368.73 L418.42,369.06 L419.62,369.40 L420.83,369.73 L422.04,370.07 L423.26,370.41 L424.48,370.74 L425.70,371.08 L426.93,371.41 L428.16,371.75 L429.39,372.09 L430.63,372.42 L431.87,372.76 L433.11,373.09 L434.35,373.43 L435.60,373.76 L436.85,374.10 L438.10,374.43 L439.36,374.76 L440.62,375.10 L441.88,375.43 L443.14,375.76 L444.41,376.09 L445.68,376.42 L446.95,376.75 L448.23,377.08 L449.50,377.41 L450.79,377.74 L452.07,378.07 L453.35,378.39 L454.64,378.72 L455.94,379.04 L457.23,379.36 L458.53,379.69 L459.83,380.01 L461.13,380.33 L462.44,380.65 L463.75,380.96 L465.06,381.28 L466.37,381.60 L467.69,381.91 L469.01,382.22 L470.33,382.53 L471.66,382.84 L472.99,383.15 L474.32,383.46 L475.66,383.76 L477.00,384.06 L478.34,384.36 L479.68,384.66 L481.03,384.96 L482.38,385.26 L483.73,385.55 L485.09,385.84 L486.45,386.13 L487.81,386.42 L489.18,386.71 L490.55,386.99 L491.92,387.28 L493.29,387.56 L494.67,387.83 L496.05,388.11 L497.44,388.38 L498.82,388.65 L500.21,388.92 L501.61,389.19 L503.01,389.45 L504.41,389.71 L505.81,389.97 L507.22,390.23 L508.63,390.48 L510.04,390.73 L511.46,390.98 L512.88,391.23 L514.30,391.47 L515.73,391.71 L517.16,391.95 L518.59,392.18 L520.02,392.42 L521.46,392.65 L522.90,392.87 L524.34,393.10 L525.79,393.33 L527.24,393.55 L528.69,393.77 L530.14,393.99 L531.60,394.21 L533.05,394.43 L534.51,394.65 L535.97,394.86 L537.43,395.08 L538.90,395.29 L540.36,395.50 L541.83,395.72 L543.30,395.93 L544.76,396.14 L546.23,396.35 L547.71,396.56 L549.18,396.78 L550.65,396.99 L552.12,397.20 L553.60,397.41 L555.07,397.63 L556.55,397.84 L558.02,398.06 L559.50,398.27 L560.97,398.49 L562.45,398.71 L563.93,398.93 L565.40,399.15 L566.88,399.37 L568.35,399.59 L569.83,399.82 L571.30,400.04 L572.77,400.27 L574.24,400.50 L575.72,400.74 L577.19,400.97 L578.66,401.21 L580.12,401.45 L581.59,401.70 L583.06,401.94 L584.52,402.19 L585.98,402.44 L587.45,402.70 L588.90,402.96 L590.36,403.22 L591.82,403.48 L593.27,403.75 L594.72,404.02 L596.17,404.30" stroke="#8000ff"/>
<path d="M129.47,52.20 L131.79,60.88 L134.06,69.30 L136.29,77.46 L138.46,85.37 L140.59,93.04 L142.67,100.46 L144.71,107.64 L146.70,114.59 L148.65,121.31 L150.56,127.80 L152.42,134.08 L154.24,140.13 L156.01,145.97 L157.75,151.61 L159.45,157.03 L161.10,162.26 L162.72,167.30 L164.29,172.14 L165.83,176.79 L167.33,181.26 L168.79,185.56 L170.22,189.67 L171.61,193.62 L172.97,197.40 L174.29,201.02 L175.57,204.48 L176.83,207.79 L178.05,210.95 L179.23,213.97 L180.39,216.84 L181.51,219.58 L182.61,222.19 L183.67,224.67 L184.70,227.02 L185.71,229.26 L186.68,231.38 L187.63,233.39 L188.56,235.30 L189.45,237.10 L190.32,238.81 L191.16,240.42 L191.98,241.94 L192.78,243.38 L193.55,244.73 L194.30,246.01 L195.03,247.22 L195.73,248.36 L196.41,249.43 L197.08,250.45 L197.72,251.41 L198.34,252.32 L198.95,253.19 L199.53,254.01 L200.10,254.79 L200.66,255.54 L201.19,256.26 L201.71,256.95 L202.21,257.63 L202.70,258.28 L203.18,258.91 L203.64,259.53 L204.10,260.12 L204.54,260.70 L204.97,261.26 L205.39,261.81 L205.80,262.34 L206.20,262.86 L206.60,263.36 L206.99,263.85 L207.38,264.32 L207.76,264.79 L208.14,265.24 L208.51,265.68 L208.89,266.11 L209.26,266.53 L209.63,266.94 L210.01,267.34 L210.38,267.74 L210.76,268.13 L211.14,268.51 L211.52,268.89 L211.91,269.26 L212.30,269.62 L212.70,269.98 L213.11,270.34 L213.53,270.70 L213.95,271.05 L214.39,271.40 L214.83,271.75 L215.29,272.11 L215.76,272.46 L216.24,272.81 L216.74,273.17 L217.25,273.52 L217.78,273.88 L218.32,274.25 L218.88,274.62 L219.46,274.99 L220.06,275.37 L220.68,275.75 L221.32,276.15 L221.98,276.54 L222.66,276.95 L223.37,277.37 L224.10,277.80 L224.85,278.23 L225.63,278.68 L226.44,279.14 L227.28,279.61 L228.14,280.09 L229.03,280.59 L229.95,281.10 L230.91,281.62 L231.89,282.16 L232.91,282.72 L233.96,283.29 L235.04,283.87 L236.15,284.47 L237.28,285.09 L238.45,285.72 L239.65,286.36 L240.87,287.01 L242.11,287.68 L243.38,288.36 L244.68,289.05 L246.00,289.75 L247.33,290.46 L248.69,291.18 L250.07,291.91 L251.47,292.65 L252.89,293.39 L254.32,294.15 L255.77,294.91 L257.23,295.67 L258.71,296.45 L260.20,297.23 L261.71,298.01 L263.22,298.80 L264.75,299.59 L266.28,300.39 L267.83,301.19 L269.38,301.99 L270.94,302.79 L272.50,303.60 L274.07,304.41 L275.64,305.21 L277.21,306.02 L278.79,306.83 L280.37,307.64 L281.95,308.44 L283.52,309.24 L285.10,310.05 L286.67,310.84 L288.24,311.64 L289.80,312.43 L291.36,313.21 L292.92,314.00 L294.46,314.77 L296.00,315.54 L297.52,316.31 L299.04,317.06 L300.55,317.81 L302.04,318.55 L303.52,319.29 L304.99,320.01 L306.44,320.72 L307.87,321.43 L309.29,322.12 L310.69,322.81 L312.07,323.48 L313.43,324.14 L314.78,324.79 L316.10,325.42 L317.40,326.04 L318.68,326.65 L319.94,327.25 L321.18,327.84 L322.41,328.42 L323.62,328.98 L324.81,329.53 L325.98,330.08 L327.14,330.61 L328.28,331.13 L329.40,331.65 L330.52,332.15 L331.61,332.64 L332.70,333.13 L333.77,333.60 L334.82,334.07 L335.87,334.52 L336.90,334.97 L337.92,335.42 L338.94,335.85 L339.94,336.27 L340.93,336.69 L341.91,337.10 L342.89,337.51 L343.85,337.91 L344.81,338.30 L345.76,338.68 L346.70,339.06 L347.64,339.43 L348.57,339.80 L349.50,340.16 L350.42,340.52 L351.34,340.87 L352.25,341.22 L353.16,341.56 L354.07,341.90 L354.98,342.24 L355.88,342.57 L356.78,342.90 L357.69,343.22 L358.59,343.54 L359.49,343.86 L360.39,344.18 L361.30,344.49 L362.20,344.80 L363.11,345.11 L364.02,345.42 L364.94,345.73 L365.85,346.03 L366.78,346.34 L367.70,346.64 L368.64,346.95 L369.57,347.25 L370.52,347.56 L371.47,347.86 L372.43,348.16 L373.39,348.47 L374.37,348.77 L375.35,349.08 L376.34,349.39 L377.33,349.70 L378.33,350.00 L379.34,350.31 L380.36,350.62 L381.38,350.93 L382.41,351.24 L383.45,351.55 L384.49,351.87 L385.54,352.18 L386.60,352.49 L387.66,352.81 L388.73,353.12 L389.80,353.44 L390.88,353.76 L391.97,354.07 L393.06,354.39 L394.16,354.71 L395.27,355.03 L396.38,355.35 L397.49,355.67 L398.61,355.99 L399.74,356.31 L400.87,356.64 L402.01,356.96 L403.15,357.29 L404.29,357.61 L405.45,357.94 L406.60,358.27 L407.76,358.59 L408.93,358.92 L410.10,359.25 L411.28,359.58 L412.46,359.92 L413.64,360.25 L414.83,360.58 L416.02,360.92 L417.22,361.25 L418.42,361.59 L419.62,361.92 L420.83,362.26 L422.04,362.60 L423.26,362.94 L424.48,363.28 L425.70,363.62 L426.93,363.96 L428.16,364.31 L429.39,364.65 L430.63,364.99 L431.87,365.34 L433.11,365.69 L434.35,366.03 L435.60,366.38 L436.85,366.73 L438.10,367.08 L439.36,367.44 L440.62,367.79 L441.88,368.14 L443.14,368.50 L444.41,368.85 L445.68,369.21 L446.95,369.56 L448.23,369.92 L449.50,370.28 L450.79,370.63 L452.07,370.99 L453.35,371.35 L454.64,371.71 L455.94,372.07 L457.23,372.43 L458.53,372.78 L459.83,373.14 L461.13,373.50 L462.44,373.86 L463.75,374.22 L465.06,374.58 L466.37,374.94 L467.69,375.30 L469.01,375.66 L470.33,376.01 L471.66,376.37 L472.99,376.73 L474.32,377.08 L475.66,377.44 L477.00,377.79 L478.34,378.15 L479.68,378.50 L481.03,378.86 L482.38,379.21 L483.73,379.56 L485.09,379.91 L486.45,380.26 L487.81,380.61 L489.18,380.96 L490.55,381.30 L491.92,381.65 L493.29,381.99 L494.67,382.33 L496.05,382.68 L497.44,383.02 L498.82,383.35 L500.21,383.69 L501.61,384.03 L503.01,384.36 L504.41,384.69 L505.81,385.02 L507.22,385.35 L508.63,385.68 L510.04,386.00 L511.46,386.32 L512.88,386.65 L514.30,386.96 L515.73,387.28 L517.16,387.60 L518.59,387.91 L520.02,388.22 L521.46,388.53 L522.90,388.83 L524.34,389.14 L525.79,389.44 L527.24,389.73 L528.69,390.03 L530.14,390.32 L531.60,390.61 L533.05,390.90 L534.51,391.19 L535.97,391.47 L537.43,391.75 L538.90,392.02 L540.36,392.30 L541.83,392.57 L543.30,392.83 L544.76,393.10 L546.23,393.36 L547.71,393.61 L549.18,393.87 L550.65,394.12 L552.12,394.37 L553.60,394.61 L555.07,394.85 L556.55,395.09 L558.02,395.32 L559.50,395.55 L560.97,395.77 L562.45,395.99 L563.93,396.21 L565.40,396.42 L566.88,396.63 L568.35,396.84 L569.83,397.04 L571.30,397.24 L572.77,397.43 L574.24,397.62 L575.72,397.80 L577.19,397.98 L578.66,398.16 L580.12,398.33 L581.59,398.50 L583.06,398.66 L584.52,398.82 L585.98,398.97 L587.45,399.12 L588.90,399.26 L590.36,399.40 L591.82,399.53 L593.27,399.66 L594.72,399.78 L596.17,399.90" stroke="#800080"/>
</g>
<rect x="124.47" y="255.90" width="10" height="10" fill="#000000"/>
<rect x="169.11" y="316.60" width="10" height="10" fill="#000000"/>
<rect x="205.04" y="341.70" width="10" height="10" fill="#000000"/>
<rect x="209.39" y="345.20" width="10" height="10" fill="#000000"/>
<rect x="320.44" y="388.30" width="10" height="10" fill="#000000"/>
<rect x="362.90" y="400.00" width="10" height="10" fill="#000000"/>
<rect x="430.04" y="414.30" width="10" height="10" fill="#000000"/>
<rect x="505.89" y="423.60" width="10" height="10" fill="#000000"/>
<rect x="563.59" y="433.80" width="10" height="10" fill="#000000"/>
<rect x="591.17" y="435.10" width="10" height="10" fill="#000000"/>
<circle cx="129.47" cy="238.60" r="5.3" fill="#ff0000"/>
<circle cx="174.11" cy="315.10" r="5.3" fill="#ff0000"/>
<circle cx="210.04" cy="339.80" r="5.3" fill="#ff0000"/>
<circle cx="214.39" cy="341.20" r="5.3" fill="#ff0000"/>
<circle cx="325.44" cy="389.40" r="5.3" fill="#ff0000"/>
<circle cx="367.90" cy="401.10" r="5.3" fill="#ff0000"/>
<circle cx="435.04" cy="414.70" r="5.3" fill="#ff0000"/>
<circle cx="510.89" cy="427.10" r="5.3" fill="#ff0000"/>
<circle cx="568.59" cy="434.80" r="5.3" fill="#ff0000"/>
<circle cx="596.17" cy="434.80" r="5.3" fill="#ff0000"/>
<polygon points="129.47,228.57 136.27,239.87 122.67,239.87" fill="#0000ff"/>
<polygon points="174.11,291.97 180.91,303.27 167.31,303.27" fill="#0000ff"/>
<polygon points="210.04,327.97 216.84,339.27 203.24,339.27" fill="#0000ff"/>
<polygon points="214.39,330.07 221.19,341.37 207.59,341.37" fill="#0000ff"/>
<polygon points="325.44,379.57 332.24,390.87 318.64,390.87" fill="#0000ff"/>
<polygon points="367.90,392.77 374.70,404.07 361.10,404.07" fill="#0000ff"/>
<polygon points="435.04,402.67 441.84,413.97 428.24,413.97" fill="#0000ff"/>
<polygon points="510.89,416.47 517.69,427.77 504.09,427.77" fill="#0000ff"/>
<polygon points="568.59,422.27 575.39,433.57 561.79,433.57" fill="#0000ff"/>
<polygon points="596.17,425.07 602.97,436.37 589.37,436.37" fill="#0000ff"/>
<polygon points="129.47,216.47 136.47,204.97 122.47,204.97" fill="#ff00ff"/>
<polygon points="174.11,302.67 181.11,291.17 167.11,291.17" fill="#ff00ff"/>
<polygon points="210.04,334.67 217.04,323.17 203.04,323.17" fill="#ff00ff"/>
<polygon points="214.39,337.67 221.39,326.17 207.39,326.17" fill="#ff00ff"/>
<polygon points="325.44,387.47 332.44,375.97 318.44,375.97" fill="#ff00ff"/>
<polygon points="367.90,400.17 374.90,388.67 360.90,388.67" fill="#ff00ff"/>
<polygon points="435.04,414.67 442.04,403.17 428.04,403.17" fill="#ff00ff"/>
<polygon points="510.89,426.17 517.89,414.67 503.89,414.67" fill="#ff00ff"/>
<polygon points="568.59,437.67 575.59,426.17 561.59,426.17" fill="#ff00ff"/>
<polygon points="596.17,438.67 603.17,427.17 589.17,427.17" fill="#ff00ff"/>
<polygon points="129.47,198.00 135.87,205.00 129.47,212.00 123.07,205.00" fill="#008000"/>
<polygon points="174.11,283.00 180.51,290.00 174.11,297.00 167.71,290.00" fill="#008000"/>
<polygon points="210.04,318.00 216.44,325.00 210.04,332.00 203.64,325.00" fill="#008000"/>
<polygon points="214.39,320.50 220.79,327.50 214.39,334.50 207.99,327.50" fill="#008000"/>
<polygon points="325.44,368.00 331.84,375.00 325.44,382.00 319.04,375.00" fill="#008000"/>
<polygon points="367.90,381.20 374.30,388.20 367.90,395.20 361.50,388.20" fill="#008000"/>
<polygon points="435.04,397.50 441.44,404.50 435.04,411.50 428.64,404.50" fill="#008000"/>
<polygon points="510.89,407.00 517.29,414.00 510.89,421.00 504.49,414.00" fill="#008000"/>
<polygon points="568.59,416.50 574.99,423.50 568.59,430.50 562.19,423.50" fill="#008000"/>
<polygon points="596.17,421.70 602.57,428.70 596.17,435.70 589.77,428.70" fill="#008000"/>
<polygon points="122.14,185.50 133.14,178.90 133.14,192.10" fill="#000080"/>
<polygon points="166.78,286.00 177.78,279.40 177.78,292.60" fill="#000080"/>
<polygon points="202.71,317.70 213.71,311.10 213.71,324.30" fill="#000080"/>
<polygon points="207.06,322.30 218.06,315.70 218.06,328.90" fill="#000080"/>
<polygon points="318.11,370.00 329.11,363.40 329.11,376.60" fill="#000080"/>
<polygon points="360.57,384.60 371.57,378.00 371.57,391.20" fill="#000080"/>
<polygon points="427.71,404.50 438.71,397.90 438.71,411.10" fill="#000080"/>
<polygon points="503.56,412.50 514.56,405.90 514.56,419.10" fill="#000080"/>
<polygon points="561.26,419.40 572.26,412.80 572.26,426.00" fill="#000080"/>
<polygon points="588.84,424.00 599.84,417.40 599.84,430.60" fill="#000080"/>
<polygon points="137.14,90.30 125.64,83.50 125.64,97.10" fill="#8000ff"/>
<polygon points="181.78,235.50 170.28,228.70 170.28,242.30" fill="#8000ff"/>
<polygon points="217.71,278.20 206.21,271.40 206.21,285.00" fill="#8000ff"/>
<polygon points="222.06,282.20 210.56,275.40 210.56,289.00" fill="#8000ff"/>
<polygon points="333.11,340.40 321.61,333.60 321.61,347.20" fill="#8000ff"/>
<polygon points="375.57,354.50 364.07,347.70 364.07,361.30" fill="#8000ff"/>
<polygon points="442.71,374.20 431.21,367.40 431.21,381.00" fill="#8000ff"/>
<polygon points="518.56,392.70 507.06,385.90 507.06,399.50" fill="#8000ff"/>
<polygon points="576.26,399.00 564.76,392.20 564.76,405.80" fill="#8000ff"/>
<polygon points="603.84,404.30 592.34,397.50 592.34,411.10" fill="#8000ff"/>
<polygon points="129.47,45.95 124.06,49.08 124.06,55.33 129.47,58.45 134.89,55.33 134.89,49.08" fill="#800080"/>
<polygon points="174.11,213.75 168.70,216.88 168.70,223.12 174.11,226.25 179.52,223.12 179.52,216.88" fill="#800080"/>
<polygon points="210.04,261.95 204.63,265.07 204.63,271.32 210.04,274.45 215.45,271.32 215.45,265.07" fill="#800080"/>
<polygon points="214.39,267.35 208.98,270.48 208.98,276.73 214.39,279.85 219.81,276.73 219.81,270.48" fill="#800080"/>
<polygon points="325.44,325.05 320.03,328.18 320.03,334.43 325.44,337.55 330.86,334.43 330.86,328.18" fill="#800080"/>
<polygon points="367.90,341.45 362.49,344.57 362.49,350.82 367.90,353.95 373.32,350.82 373.32,344.57" fill="#800080"/>
<polygon points="435.04,359.85 429.63,362.98 429.63,369.23 435.04,372.35 440.45,369.23 440.45,362.98" fill="#800080"/>
<polygon points="510.89,381.45 505.48,384.57 505.48,390.82 510.89,393.95 516.30,390.82 516.30,384.57" fill="#800080"/>
<polygon points="568.59,391.45 563.18,394.57 563.18,400.82 568.59,403.95 574.00,400.82 574.00,394.57" fill="#800080"/>
<polygon points="596.17,393.65 590.76,396.77 590.76,403.02 596.17,406.15 601.58,403.02 601.58,396.77" fill="#800080"/>
<g stroke="#000" stroke-width="1.1" fill="none">
<path d="M129.47,250.90V255.90M129.47,265.90V270.90M124.97,250.90h9M124.97,270.90h9"/>
<path d="M174.11,310.90V316.60M174.11,326.60V332.30M169.61,310.90h9M169.61,332.30h9"/>
<path d="M210.04,337.70V341.70M210.04,351.70V355.70M205.54,337.70h9M205.54,355.70h9"/>
<path d="M214.39,340.70V345.20M214.39,355.20V359.70M209.89,340.70h9M209.89,359.70h9"/>
<path d="M325.44,383.70V388.30M325.44,398.30V402.90M320.94,383.70h9M320.94,402.90h9"/>
<path d="M367.90,394.00V400.00M367.90,410.00V416.00M363.40,394.00h9M363.40,416.00h9"/>
<path d="M435.04,407.00V414.30M435.04,424.30V431.60M430.54,407.00h9M430.54,431.60h9"/>
<path d="M510.89,417.30V423.60M510.89,433.60V439.90M506.39,417.30h9M506.39,439.90h9"/>
<path d="M568.59,428.80V433.80M568.59,443.80V448.80M564.09,428.80h9M564.09,448.80h9"/>
<path d="M596.17,428.80V435.10M596.17,445.10V451.40M591.67,428.80h9M591.67,451.40h9"/>
<path d="M129.47,228.10V233.30M129.47,243.90V249.10M124.97,228.10h9M124.97,249.10h9"/>
<path d="M174.11,306.30V309.80M174.11,320.40V323.90M169.61,306.30h9M169.61,323.90h9"/>
<path d="M210.04,328.80V334.50M210.04,345.10V350.80M205.54,328.80h9M205.54,350.80h9"/>
<path d="M214.39,330.20V335.90M214.39,346.50V352.20M209.89,330.20h9M209.89,352.20h9"/>
<path d="M325.44,378.40V384.10M325.44,394.70V400.40M320.94,378.40h9M320.94,400.40h9"/>
<path d="M367.90,390.10V395.80M367.90,406.40V412.10M363.40,390.10h9M363.40,412.10h9"/>
<path d="M435.04,403.70V409.40M435.04,420.00V425.70M430.54,403.70h9M430.54,425.70h9"/>
<path d="M510.89,418.20V421.80M510.89,432.40V436.00M506.39,418.20h9M506.39,436.00h9"/>
<path d="M568.59,424.10V429.50M568.59,440.10V445.50M564.09,424.10h9M564.09,445.50h9"/>
<path d="M596.17,423.80V429.50M596.17,440.10V445.80M591.67,423.80h9M591.67,445.80h9"/>
<path d="M129.47,228.10V228.60M129.47,239.90V244.10M124.97,228.10h9M124.97,244.10h9"/>
<path d="M174.11,288.50V292.00M174.11,303.30V310.50M169.61,288.50h9M169.61,310.50h9"/>
<path d="M210.04,324.50V328.00M210.04,339.30V346.50M205.54,324.50h9M205.54,346.50h9"/>
<path d="M214.39,326.60V330.10M214.39,341.40V348.60M209.89,326.60h9M209.89,348.60h9"/>
<path d="M325.44,376.10V379.60M325.44,390.90V398.10M320.94,376.10h9M320.94,398.10h9"/>
<path d="M367.90,389.30V392.80M367.90,404.10V411.30M363.40,389.30h9M363.40,411.30h9"/>
<path d="M435.04,399.20V402.70M435.04,414.00V421.20M430.54,399.20h9M430.54,421.20h9"/>
<path d="M510.89,414.00V416.50M510.89,427.80V434.00M506.39,414.00h9M506.39,434.00h9"/>
<path d="M568.59,419.80V422.30M568.59,433.60V439.80M564.09,419.80h9M564.09,439.80h9"/>
<path d="M596.17,421.60V425.10M596.17,436.40V443.60M591.67,421.60h9M591.67,443.60h9"/>
<path d="M129.47,194.40V205.00M129.47,216.50V223.20M124.97,194.40h9M124.97,223.20h9"/>
<path d="M174.11,284.00V291.20M174.11,302.70V306.00M169.61,284.00h9M169.61,306.00h9"/>
<path d="M210.04,316.00V323.20M210.04,334.70V338.00M205.54,316.00h9M205.54,338.00h9"/>
<path d="M214.39,319.00V326.20M214.39,337.70V341.00M209.89,319.00h9M209.89,341.00h9"/>
<path d="M325.44,368.80V376.00M325.44,387.50V390.80M320.94,368.80h9M320.94,390.80h9"/>
<path d="M367.90,381.50V388.70M367.90,400.20V403.50M363.40,381.50h9M363.40,403.50h9"/>
<path d="M435.04,396.00V403.20M435.04,414.70V418.00M430.54,396.00h9M430.54,418.00h9"/>
<path d="M510.89,404.50V414.70M510.89,426.20V432.50M506.39,404.50h9M506.39,432.50h9"/>
<path d="M568.59,420.00V426.20M568.59,437.70V440.00M564.09,420.00h9M564.09,440.00h9"/>
<path d="M596.17,420.00V427.20M596.17,438.70V442.00M591.67,420.00h9M591.67,442.00h9"/>
<path d="M129.47,193.80V198.00M129.47,212.00V216.20M124.97,193.80h9M124.97,216.20h9"/>
<path d="M174.11,279.00V283.00M174.11,297.00V301.00M169.61,279.00h9M169.61,301.00h9"/>
<path d="M210.04,314.00V318.00M210.04,332.00V336.00M205.54,314.00h9M205.54,336.00h9"/>
<path d="M214.39,316.50V320.50M214.39,334.50V338.50M209.89,316.50h9M209.89,338.50h9"/>
<path d="M325.44,364.00V368.00M325.44,382.00V386.00M320.94,364.00h9M320.94,386.00h9"/>
<path d="M367.90,377.20V381.20M367.90,395.20V399.20M363.40,377.20h9M363.40,399.20h9"/>
<path d="M430.54,397.50h9M430.54,411.50h9"/>
<path d="M510.89,404.50V407.00M510.89,421.00V423.50M506.39,404.50h9M506.39,423.50h9"/>
<path d="M568.59,413.00V416.50M568.59,430.50V434.00M564.09,413.00h9M564.09,434.00h9"/>
<path d="M596.17,419.60V421.70M596.17,435.70V437.80M591.67,419.60h9M591.67,437.80h9"/>
<path d="M129.47,175.20V178.90M129.47,192.10V195.80M124.97,175.20h9M124.97,195.80h9"/>
<path d="M174.11,275.00V279.40M174.11,292.60V297.00M169.61,275.00h9M169.61,297.00h9"/>
<path d="M210.04,308.40V311.10M210.04,324.30V327.00M205.54,308.40h9M205.54,327.00h9"/>
<path d="M214.39,312.50V315.70M214.39,328.90V332.10M209.89,312.50h9M209.89,332.10h9"/>
<path d="M325.44,358.40V363.40M325.44,376.60V381.60M320.94,358.40h9M320.94,381.60h9"/>
<path d="M367.90,375.80V378.00M367.90,391.20V393.40M363.40,375.80h9M363.40,393.40h9"/>
<path d="M435.04,391.50V397.90M435.04,411.10V417.50M430.54,391.50h9M430.54,417.50h9"/>
<path d="M510.89,399.90V405.90M510.89,419.10V425.10M506.39,399.90h9M506.39,425.10h9"/>
<path d="M568.59,407.30V412.80M568.59,426.00V431.50M564.09,407.30h9M564.09,431.50h9"/>
<path d="M596.17,415.50V417.40M596.17,430.60V432.50M591.67,415.50h9M591.67,432.50h9"/>
<path d="M129.47,78.30V83.50M129.47,97.10V102.30M124.97,78.30h9M124.97,102.30h9"/>
<path d="M174.11,224.60V228.70M174.11,242.30V246.40M169.61,224.60h9M169.61,246.40h9"/>
<path d="M210.04,267.90V271.40M210.04,285.00V288.50M205.54,267.90h9M205.54,288.50h9"/>
<path d="M214.39,274.70V275.40M214.39,289.00V289.70M209.89,274.70h9M209.89,289.70h9"/>
<path d="M325.44,330.40V333.60M325.44,347.20V350.40M320.94,330.40h9M320.94,350.40h9"/>
<path d="M367.90,343.50V347.70M367.90,361.30V365.50M363.40,343.50h9M363.40,365.50h9"/>
<path d="M435.04,364.20V367.40M435.04,381.00V384.20M430.54,364.20h9M430.54,384.20h9"/>
<path d="M510.89,379.50V385.90M510.89,399.50V405.90M506.39,379.50h9M506.39,405.90h9"/>
<path d="M568.59,390.70V392.20M568.59,405.80V407.30M564.09,390.70h9M564.09,407.30h9"/>
<path d="M596.17,393.30V397.50M596.17,411.10V415.30M591.67,393.30h9M591.67,415.30h9"/>
<path d="M129.47,40.10V45.95M129.47,58.45V64.30M124.97,40.10h9M124.97,64.30h9"/>
<path d="M174.11,208.00V213.75M174.11,226.25V232.00M169.61,208.00h9M169.61,232.00h9"/>
<path d="M210.04,255.50V261.95M210.04,274.45V280.90M205.54,255.50h9M205.54,280.90h9"/>
<path d="M214.39,262.30V267.35M214.39,279.85V284.90M209.89,262.30h9M209.89,284.90h9"/>
<path d="M325.44,321.30V325.05M325.44,337.55V341.30M320.94,321.30h9M320.94,341.30h9"/>
<path d="M367.90,336.80V341.45M367.90,353.95V358.60M363.40,336.80h9M363.40,358.60h9"/>
<path d="M435.04,356.10V359.85M435.04,372.35V376.10M430.54,356.10h9M430.54,376.10h9"/>
<path d="M510.89,378.00V381.45M510.89,393.95V397.40M506.39,378.00h9M506.39,397.40h9"/>
<path d="M568.59,384.40V391.45M568.59,403.95V411.00M564.09,384.40h9M564.09,411.00h9"/>
<path d="M596.17,388.60V393.65M596.17,406.15V411.20M591.67,388.60h9M591.67,411.20h9"/>
</g>
<rect x="85.20" y="8.20" width="580.65" height="470.60" fill="none" stroke="#000" stroke-width="3.3"/>
<line x1="85.20" y1="478.80" x2="85.20" y2="487.40" stroke="#000" stroke-width="3.5"/>
<line x1="85.20" y1="8.20" x2="85.20" y2="16.80" stroke="#000" stroke-width="3.5"/>
<line x1="121.49" y1="478.80" x2="121.49" y2="483.30" stroke="#000" stroke-width="3.3"/>
<line x1="121.49" y1="8.20" x2="121.49" y2="12.70" stroke="#000" stroke-width="3.3"/>
<line x1="157.78" y1="478.80" x2="157.78" y2="487.40" stroke="#000" stroke-width="3.5"/>
<line x1="157.78" y1="8.20" x2="157.78" y2="16.80" stroke="#000" stroke-width="3.5"/>
<line x1="194.07" y1="478.80" x2="194.07" y2="483.30" stroke="#000" stroke-width="3.3"/>
<line x1="194.07" y1="8.20" x2="194.07" y2="12.70" stroke="#000" stroke-width="3.3"/>
<line x1="230.36" y1="478.80" x2="230.36" y2="487.40" stroke="#000" stroke-width="3.5"/>
<line x1="230.36" y1="8.20" x2="230.36" y2="16.80" stroke="#000" stroke-width="3.5"/>
<line x1="266.65" y1="478.80" x2="266.65" y2="483.30" stroke="#000" stroke-width="3.3"/>
<line x1="266.65" y1="8.20" x2="266.65" y2="12.70" stroke="#000" stroke-width="3.3"/>
<line x1="302.94" y1="478.80" x2="302.94" y2="487.40" stroke="#000" stroke-width="3.5"/>
<line x1="302.94" y1="8.20" x2="302.94" y2="16.80" stroke="#000" stroke-width="3.5"/>
<line x1="339.23" y1="478.80" x2="339.23" y2="483.30" stroke="#000" stroke-width="3.3"/>
<line x1="339.23" y1="8.20" x2="339.23" y2="12.70" stroke="#000" stroke-width="3.3"/>
<line x1="375.52" y1="478.80" x2="375.52" y2="487.40" stroke="#000" stroke-width="3.5"/>
<line x1="375.52" y1="8.20" x2="375.52" y2="16.80" stroke="#000" stroke-width="3.5"/>
<line x1="411.82" y1="478.80" x2="411.82" y2="483.30" stroke="#000" stroke-width="3.3"/>
<line x1="411.82" y1="8.20" x2="411.82" y2="12.70" stroke="#000" stroke-width="3.3"/>
<line x1="448.11" y1="478.80" x2="448.11" y2="487.40" stroke="#000" stroke-width="3.5"/>
<line x1="448.11" y1="8.20" x2="448.11" y2="16.80" stroke="#000" stroke-width="3.5"/>
<line x1="484.40" y1="478.80" x2="484.40" y2="483.30" stroke="#000" stroke-width="3.3"/>
<line x1="484.40" y1="8.20" x2="484.40" y2="12.70" stroke="#000" stroke-width="3.3"/>
<line x1="520.69" y1="478.80" x2="520.69" y2="487.40" stroke="#000" stroke-width="3.5"/>
<line x1="520.69" y1="8.20" x2="520.69" y2="16.80" stroke="#000" stroke-width="3.5"/>
<line x1="556.98" y1="478.80" x2="556.98" y2="483.30" stroke="#000" stroke-width="3.3"/>
<line x1="556.98" y1="8.20" x2="556.98" y2="12.70" stroke="#000" stroke-width="3.3"/>
<line x1="593.27" y1="478.80" x2="593.27" y2="487.40" stroke="#000" stroke-width="3.5"/>
<line x1="593.27" y1="8.20" x2="593.27" y2="16.80" stroke="#000" stroke-width="3.5"/>
<line x1="629.56" y1="478.80" x2="629.56" y2="483.30" stroke="#000" stroke-width="3.3"/>
<line x1="629.56" y1="8.20" x2="629.56" y2="12.70" stroke="#000" stroke-width="3.3"/>
<line x1="665.85" y1="478.80" x2="665.85" y2="487.40" stroke="#000" stroke-width="3.5"/>
<line x1="665.85" y1="8.20" x2="665.85" y2="16.80" stroke="#000" stroke-width="3.5"/>
<line x1="85.20" y1="478.80" x2="76.10" y2="478.80" stroke="#000" stroke-width="3.5"/>
<line x1="665.85" y1="478.80" x2="657.25" y2="478.80" stroke="#000" stroke-width="3.5"/>
<line x1="85.20" y1="445.19" x2="80.70" y2="445.19" stroke="#000" stroke-width="3.3"/>
<line x1="665.85" y1="445.19" x2="661.35" y2="445.19" stroke="#000" stroke-width="3.3"/>
<line x1="85.20" y1="411.57" x2="76.10" y2="411.57" stroke="#000" stroke-width="3.5"/>
<line x1="665.85" y1="411.57" x2="657.25" y2="411.57" stroke="#000" stroke-width="3.5"/>
<line x1="85.20" y1="377.96" x2="80.70" y2="377.96" stroke="#000" stroke-width="3.3"/>
<line x1="665.85" y1="377.96" x2="661.35" y2="377.96" stroke="#000" stroke-width="3.3"/>
<line x1="85.20" y1="344.34" x2="76.10" y2="344.34" stroke="#000" stroke-width="3.5"/>
<line x1="665.85" y1="344.34" x2="657.25" y2="344.34" stroke="#000" stroke-width="3.5"/>
<line x1="85.20" y1="310.73" x2="80.70" y2="310.73" stroke="#000" stroke-width="3.3"/>
<line x1="665.85" y1="310.73" x2="661.35" y2="310.73" stroke="#000" stroke-width="3.3"/>
<line x1="85.20" y1="277.11" x2="76.10" y2="277.11" stroke="#000" stroke-width="3.5"/>
<line x1="665.85" y1="277.11" x2="657.25" y2="277.11" stroke="#000" stroke-width="3.5"/>
<line x1="85.20" y1="243.50" x2="80.70" y2="243.50" stroke="#000" stroke-width="3.3"/>
<line x1="665.85" y1="243.50" x2="661.35" y2="243.50" stroke="#000" stroke-width="3.3"/>
<line x1="85.20" y1="209.89" x2="76.10" y2="209.89" stroke="#000" stroke-width="3.5"/>
<line x1="665.85" y1="209.89" x2="657.25" y2="209.89" stroke="#000" stroke-width="3.5"/>
<line x1="85.20" y1="176.27" x2="80.70" y2="176.27" stroke="#000" stroke-width="3.3"/>
<line x1="665.85" y1="176.27" x2="661.35" y2="176.27" stroke="#000" stroke-width="3.3"/>
<line x1="85.20" y1="142.66" x2="76.10" y2="142.66" stroke="#000" stroke-width="3.5"/>
<line x1="665.85" y1="142.66" x2="657.25" y2="142.66" stroke="#000" stroke-width="3.5"/>
<line x1="85.20" y1="109.04" x2="80.70" y2="109.04" stroke="#000" stroke-width="3.3"/>
<line x1="665.85" y1="109.04" x2="661.35" y2="109.04" stroke="#000" stroke-width="3.3"/>
<line x1="85.20" y1="75.43" x2="76.10" y2="75.43" stroke="#000" stroke-width="3.5"/>
<line x1="665.85" y1="75.43" x2="657.25" y2="75.43" stroke="#000" stroke-width="3.5"/>
<line x1="85.20" y1="41.81" x2="80.70" y2="41.81" stroke="#000" stroke-width="3.3"/>
<line x1="665.85" y1="41.81" x2="661.35" y2="41.81" stroke="#000" stroke-width="3.3"/>
<line x1="85.20" y1="8.20" x2="76.10" y2="8.20" stroke="#000" stroke-width="3.5"/>
<line x1="665.85" y1="8.20" x2="657.25" y2="8.20" stroke="#000" stroke-width="3.5"/>
<text x="85.20" y="509.2" font-size="19.6" text-anchor="middle">0</text>
<text x="157.78" y="509.2" font-size="19.6" text-anchor="middle">200</text>
<text x="230.36" y="509.2" font-size="19.6" text-anchor="middle">400</text>
<text x="302.94" y="509.2" font-size="19.6" text-anchor="middle">600</text>
<text x="375.52" y="509.2" font-size="19.6" text-anchor="middle">800</text>
<text x="448.11" y="509.2" font-size="19.6" text-anchor="middle">1000</text>
<text x="520.69" y="509.2" font-size="19.6" text-anchor="middle">1200</text>
<text x="593.27" y="509.2" font-size="19.6" text-anchor="middle">1400</text>
<text x="665.85" y="509.2" font-size="19.6" text-anchor="middle">1600</text>
<text x="70.2" y="484.10" font-size="19.5" text-anchor="end">0.04</text>
<text x="70.2" y="416.87" font-size="19.5" text-anchor="end">0.08</text>
<text x="70.2" y="349.64" font-size="19.5" text-anchor="end">0.12</text>
<text x="70.2" y="282.41" font-size="19.5" text-anchor="end">0.16</text>
<text x="70.2" y="215.19" font-size="19.5" text-anchor="end">0.20</text>
<text x="70.2" y="147.96" font-size="19.5" text-anchor="end">0.24</text>
<text x="70.2" y="80.73" font-size="19.5" text-anchor="end">0.28</text>
<text x="70.2" y="13.50" font-size="19.5" text-anchor="end">0.32</text>
<text x="375.6" y="543.9" font-size="21.3" text-anchor="middle">Photon Energy (keV)</text>
<text transform="translate(20.6,260.0) rotate(-90)" x="0" y="0" font-size="21.9" text-anchor="middle">Linear attenuation coefficient (cm<tspan font-size="14" dy="-11.3">-1</tspan><tspan dy="11.3">)</tspan></text>
<rect x="505.20" y="28.50" width="149.00" height="225.20" fill="#000"/>
<rect x="498.60" y="22.00" width="149.00" height="225.20" fill="#fff" stroke="#000" stroke-width="1"/>
<line x1="512.3" y1="46.30" x2="561" y2="46.30" stroke="#000000" stroke-width="2"/>
<rect x="531.80" y="41.30" width="10" height="10" fill="#000000"/>
<text x="567" y="53.40" font-size="21.2">EAF0</text>
<line x1="512.3" y1="73.30" x2="561" y2="73.30" stroke="#ff0000" stroke-width="2"/>
<circle cx="536.80" cy="73.30" r="5.3" fill="#ff0000"/>
<text x="567" y="80.40" font-size="21.2">EAF20</text>
<line x1="512.3" y1="100.30" x2="561" y2="100.30" stroke="#0000ff" stroke-width="2"/>
<polygon points="536.80,92.77 543.60,104.07 530.00,104.07" fill="#0000ff"/>
<text x="567" y="107.40" font-size="21.2">EAF40</text>
<line x1="512.3" y1="127.30" x2="561" y2="127.30" stroke="#ff00ff" stroke-width="2"/>
<polygon points="536.80,134.97 543.80,123.47 529.80,123.47" fill="#ff00ff"/>
<text x="567" y="134.40" font-size="21.2">EAF60</text>
<line x1="512.3" y1="154.30" x2="561" y2="154.30" stroke="#008000" stroke-width="2"/>
<polygon points="536.80,147.30 543.20,154.30 536.80,161.30 530.40,154.30" fill="#008000"/>
<text x="567" y="161.40" font-size="21.2">EAF80</text>
<line x1="512.3" y1="181.30" x2="561" y2="181.30" stroke="#000080" stroke-width="2"/>
<polygon points="529.47,181.30 540.47,174.70 540.47,187.90" fill="#000080"/>
<text x="567" y="188.40" font-size="21.2">EAF100</text>
<line x1="512.3" y1="208.30" x2="561" y2="208.30" stroke="#8000ff" stroke-width="2"/>
<polygon points="544.47,208.30 532.97,201.50 532.97,215.10" fill="#8000ff"/>
<text x="567" y="215.40" font-size="21.2">EAF500</text>
<line x1="512.3" y1="235.30" x2="561" y2="235.30" stroke="#800080" stroke-width="2"/>
<polygon points="536.80,229.05 531.39,232.18 531.39,238.43 536.80,241.55 542.21,238.43 542.21,232.18" fill="#800080"/>
<text x="567" y="242.40" font-size="21.2">EAF800</text>
</svg></body></html>
